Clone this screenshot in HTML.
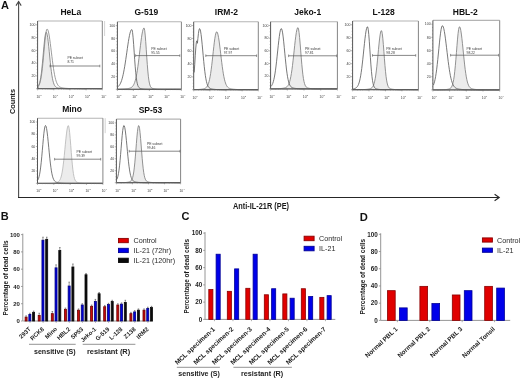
<!DOCTYPE html>
<html><head><meta charset="utf-8"><style>
html,body{margin:0;padding:0;background:#fff;width:520px;height:378px;overflow:hidden;}
svg{display:block;will-change:transform;}
text{font-family:"Liberation Sans",sans-serif;}
</style></head><body>
<svg width="520" height="378" viewBox="0 0 520 378">
<rect width="520" height="378" fill="#fff"/>
<text x="1" y="9.2" font-family="Liberation Sans, sans-serif" font-weight="bold" font-size="11" fill="#111">A</text>
<path d="M18.6,198 L18.6,1.6" stroke="#4a4a4a" stroke-width="1.1" fill="none"/>
<path d="M16,5.6 L18.6,1.5 L21.2,5.6" stroke="#474747" stroke-width="1.1" fill="none"/>
<path d="M18,197.5 L499,197.5" stroke="#262626" stroke-width="1.15" fill="none"/>
<path d="M494.6,194.3 L499.2,197.5 L494.6,200.7" stroke="#262626" stroke-width="1.15" fill="none"/>
<text transform="translate(14.6,101.5) rotate(-90)" text-anchor="middle" font-family="Liberation Sans, sans-serif" font-weight="bold" font-size="7.4" textLength="25.2" lengthAdjust="spacingAndGlyphs" fill="#1a1a1a">Counts</text>
<text x="233" y="208.9" font-family="Liberation Sans, sans-serif" font-weight="bold" font-size="8.6" textLength="56" lengthAdjust="spacingAndGlyphs" fill="#1a1a1a">Anti-IL-21R (PE)</text>
<text x="70.8" y="15" text-anchor="middle" font-family="Liberation Sans, sans-serif" font-weight="bold" font-size="8.5" fill="#111">HeLa</text>
<path d="M38.10,86.29 L38.63,85.44 L39.16,84.24 L39.69,82.56 L40.22,80.30 L40.75,77.35 L41.29,73.63 L41.82,69.13 L42.35,63.92 L42.88,58.18 L43.41,52.19 L43.94,46.30 L44.47,40.96 L45.00,36.60 L45.53,33.61 L46.06,32.26 L46.59,32.60 L47.12,34.36 L47.66,37.41 L48.19,41.50 L48.72,46.35 L49.25,51.63 L49.78,57.04 L50.31,62.29 L50.84,67.16 L51.37,71.51 L51.90,75.24 L52.43,78.33 L52.96,80.82 L53.49,82.77 L54.02,84.25 L54.56,85.35 L55.09,86.15 L55.62,86.73 L56.15,87.15 L56.68,87.45 L57.21,87.68 L57.74,87.84 L58.27,87.97 L58.80,88.08 L59.33,88.17 L59.86,88.24 L60.39,88.31 L60.93,88.36 L61.46,88.41 L61.99,88.46 L62.52,88.49 L63.05,88.53 L63.58,88.56 L64.11,88.58 L64.64,88.60 L65.17,88.62 L65.70,88.63 L66.23,88.65 L66.77,88.66 L67.30,88.66 L67.83,88.67 L68.36,88.68 L68.89,88.68 L69.42,88.69 L69.95,88.69 L70.48,88.69 L71.01,88.69 L71.54,88.69 L72.07,88.70 L72.60,88.70 L73.13,88.70 L73.67,88.70 L74.20,88.70 L74.73,88.70 L75.26,88.70 L75.79,88.70 L76.32,88.70 L76.85,88.70 L77.38,88.70 L77.91,88.70 L78.44,88.70 L78.97,88.70 L79.50,88.70 L80.04,88.70 L80.57,88.70 L81.10,88.70 L81.63,88.70 L82.16,88.70 L82.69,88.70 L83.22,88.70 L83.75,88.70 L84.28,88.70 L84.81,88.70 L85.34,88.70 L85.88,88.70 L86.41,88.70 L86.94,88.70 L87.47,88.70 L88.00,88.70 L88.53,88.70 L89.06,88.70 L89.59,88.70 L90.12,88.70 L90.65,88.70 L91.18,88.70 L91.71,88.70 L92.25,88.70 L92.78,88.70 L93.31,88.70 L93.84,88.70 L94.37,88.70 L94.90,88.70 L95.43,88.70 L95.96,88.70 L96.49,88.70 L97.02,88.70 L97.55,88.70 L98.08,88.70 L98.61,88.70 L99.15,88.70 L99.68,88.70 L100.21,88.70 L100.74,88.70 L101.27,88.70 L101.80,88.70 L101.80,88.70 L38.10,88.70 Z" fill="#ececec" stroke="#808080" stroke-width="0.85"/>
<path d="M38.10,86.51 L38.63,85.83 L39.16,84.88 L39.69,83.57 L40.22,81.79 L40.75,79.46 L41.29,76.49 L41.82,72.81 L42.35,68.42 L42.88,63.37 L43.41,57.80 L43.94,51.93 L44.47,46.06 L45.00,40.54 L45.53,35.76 L46.06,32.06 L46.59,29.75 L47.12,29.00 L47.66,29.50 L48.19,30.87 L48.72,33.07 L49.25,35.99 L49.78,39.50 L50.31,43.46 L50.84,47.71 L51.37,52.10 L51.90,56.48 L52.43,60.72 L52.96,64.73 L53.49,68.43 L54.02,71.76 L54.56,74.70 L55.09,77.24 L55.62,79.40 L56.15,81.20 L56.68,82.68 L57.21,83.87 L57.74,84.82 L58.27,85.57 L58.80,86.16 L59.33,86.62 L59.86,86.97 L60.39,87.24 L60.93,87.46 L61.46,87.63 L61.99,87.77 L62.52,87.88 L63.05,87.98 L63.58,88.06 L64.11,88.13 L64.64,88.19 L65.17,88.25 L65.70,88.30 L66.23,88.34 L66.77,88.38 L67.30,88.42 L67.83,88.46 L68.36,88.48 L68.89,88.51 L69.42,88.54 L69.95,88.56 L70.48,88.58 L71.01,88.59 L71.54,88.61 L72.07,88.62 L72.60,88.63 L73.13,88.64 L73.67,88.65 L74.20,88.66 L74.73,88.66 L75.26,88.67 L75.79,88.68 L76.32,88.68 L76.85,88.68 L77.38,88.69 L77.91,88.69 L78.44,88.69 L78.97,88.69 L79.50,88.69 L80.04,88.69 L80.57,88.70 L81.10,88.70 L81.63,88.70 L82.16,88.70 L82.69,88.70 L83.22,88.70 L83.75,88.70 L84.28,88.70 L84.81,88.70 L85.34,88.70 L85.88,88.70 L86.41,88.70 L86.94,88.70 L87.47,88.70 L88.00,88.70 L88.53,88.70 L89.06,88.70 L89.59,88.70 L90.12,88.70 L90.65,88.70 L91.18,88.70 L91.71,88.70 L92.25,88.70 L92.78,88.70 L93.31,88.70 L93.84,88.70 L94.37,88.70 L94.90,88.70 L95.43,88.70 L95.96,88.70 L96.49,88.70 L97.02,88.70 L97.55,88.70 L98.08,88.70 L98.61,88.70 L99.15,88.70 L99.68,88.70 L100.21,88.70 L100.74,88.70 L101.27,88.70 L101.80,88.70" fill="none" stroke="#8a8a8a" stroke-width="0.85"/>
<path d="M37.6,21.0 L102.3,21.0" fill="none" stroke="#b4b4b4" stroke-width="1.1"/>
<path d="M102.3,21.0 L102.3,88.7" fill="none" stroke="#858585" stroke-width="1"/>
<path d="M37.6,21.0 L37.6,88.7 L102.3,88.7" fill="none" stroke="#555" stroke-width="1"/>
<line x1="36.0" y1="88.70" x2="37.6" y2="88.70" stroke="#666" stroke-width="0.5"/>
<line x1="36.7" y1="85.50" x2="37.6" y2="85.50" stroke="#666" stroke-width="0.5"/>
<line x1="36.7" y1="82.31" x2="37.6" y2="82.31" stroke="#666" stroke-width="0.5"/>
<line x1="36.7" y1="79.12" x2="37.6" y2="79.12" stroke="#666" stroke-width="0.5"/>
<line x1="36.0" y1="75.92" x2="37.6" y2="75.92" stroke="#666" stroke-width="0.5"/>
<text x="35.4" y="77.12" text-anchor="end" font-family="Liberation Sans, sans-serif" font-size="3.5" fill="#3a3a3a">20</text>
<line x1="36.7" y1="72.73" x2="37.6" y2="72.73" stroke="#666" stroke-width="0.5"/>
<line x1="36.7" y1="69.53" x2="37.6" y2="69.53" stroke="#666" stroke-width="0.5"/>
<line x1="36.7" y1="66.34" x2="37.6" y2="66.34" stroke="#666" stroke-width="0.5"/>
<line x1="36.0" y1="63.14" x2="37.6" y2="63.14" stroke="#666" stroke-width="0.5"/>
<text x="35.4" y="64.34" text-anchor="end" font-family="Liberation Sans, sans-serif" font-size="3.5" fill="#3a3a3a">40</text>
<line x1="36.7" y1="59.95" x2="37.6" y2="59.95" stroke="#666" stroke-width="0.5"/>
<line x1="36.7" y1="56.75" x2="37.6" y2="56.75" stroke="#666" stroke-width="0.5"/>
<line x1="36.7" y1="53.55" x2="37.6" y2="53.55" stroke="#666" stroke-width="0.5"/>
<line x1="36.0" y1="50.36" x2="37.6" y2="50.36" stroke="#666" stroke-width="0.5"/>
<text x="35.4" y="51.56" text-anchor="end" font-family="Liberation Sans, sans-serif" font-size="3.5" fill="#3a3a3a">60</text>
<line x1="36.7" y1="47.16" x2="37.6" y2="47.16" stroke="#666" stroke-width="0.5"/>
<line x1="36.7" y1="43.97" x2="37.6" y2="43.97" stroke="#666" stroke-width="0.5"/>
<line x1="36.7" y1="40.77" x2="37.6" y2="40.77" stroke="#666" stroke-width="0.5"/>
<line x1="36.0" y1="37.58" x2="37.6" y2="37.58" stroke="#666" stroke-width="0.5"/>
<text x="35.4" y="38.78" text-anchor="end" font-family="Liberation Sans, sans-serif" font-size="3.5" fill="#3a3a3a">80</text>
<line x1="36.7" y1="34.39" x2="37.6" y2="34.39" stroke="#666" stroke-width="0.5"/>
<line x1="36.7" y1="31.19" x2="37.6" y2="31.19" stroke="#666" stroke-width="0.5"/>
<line x1="36.7" y1="28.00" x2="37.6" y2="28.00" stroke="#666" stroke-width="0.5"/>
<line x1="36.0" y1="24.80" x2="37.6" y2="24.80" stroke="#666" stroke-width="0.5"/>
<text x="35.4" y="26.00" text-anchor="end" font-family="Liberation Sans, sans-serif" font-size="3.5" fill="#3a3a3a">100</text>
<line x1="37.60" y1="88.7" x2="37.60" y2="90.3" stroke="#666" stroke-width="0.5"/>
<text x="38.30" y="97.60" text-anchor="middle" font-family="Liberation Sans, sans-serif" font-size="3.3" fill="#3a3a3a">10</text>
<text x="40.20" y="95.70" font-family="Liberation Sans, sans-serif" font-size="2.5" fill="#3a3a3a">0</text>
<line x1="42.47" y1="88.7" x2="42.47" y2="89.60000000000001" stroke="#777" stroke-width="0.4"/>
<line x1="45.32" y1="88.7" x2="45.32" y2="89.60000000000001" stroke="#777" stroke-width="0.4"/>
<line x1="47.34" y1="88.7" x2="47.34" y2="89.60000000000001" stroke="#777" stroke-width="0.4"/>
<line x1="48.91" y1="88.7" x2="48.91" y2="89.60000000000001" stroke="#777" stroke-width="0.4"/>
<line x1="50.19" y1="88.7" x2="50.19" y2="89.60000000000001" stroke="#777" stroke-width="0.4"/>
<line x1="51.27" y1="88.7" x2="51.27" y2="89.60000000000001" stroke="#777" stroke-width="0.4"/>
<line x1="52.21" y1="88.7" x2="52.21" y2="89.60000000000001" stroke="#777" stroke-width="0.4"/>
<line x1="53.03" y1="88.7" x2="53.03" y2="89.60000000000001" stroke="#777" stroke-width="0.4"/>
<line x1="53.77" y1="88.7" x2="53.77" y2="90.3" stroke="#666" stroke-width="0.5"/>
<text x="54.48" y="97.60" text-anchor="middle" font-family="Liberation Sans, sans-serif" font-size="3.3" fill="#3a3a3a">10</text>
<text x="56.38" y="95.70" font-family="Liberation Sans, sans-serif" font-size="2.5" fill="#3a3a3a">1</text>
<line x1="58.64" y1="88.7" x2="58.64" y2="89.60000000000001" stroke="#777" stroke-width="0.4"/>
<line x1="61.49" y1="88.7" x2="61.49" y2="89.60000000000001" stroke="#777" stroke-width="0.4"/>
<line x1="63.51" y1="88.7" x2="63.51" y2="89.60000000000001" stroke="#777" stroke-width="0.4"/>
<line x1="65.08" y1="88.7" x2="65.08" y2="89.60000000000001" stroke="#777" stroke-width="0.4"/>
<line x1="66.36" y1="88.7" x2="66.36" y2="89.60000000000001" stroke="#777" stroke-width="0.4"/>
<line x1="67.44" y1="88.7" x2="67.44" y2="89.60000000000001" stroke="#777" stroke-width="0.4"/>
<line x1="68.38" y1="88.7" x2="68.38" y2="89.60000000000001" stroke="#777" stroke-width="0.4"/>
<line x1="69.21" y1="88.7" x2="69.21" y2="89.60000000000001" stroke="#777" stroke-width="0.4"/>
<line x1="69.95" y1="88.7" x2="69.95" y2="90.3" stroke="#666" stroke-width="0.5"/>
<text x="70.65" y="97.60" text-anchor="middle" font-family="Liberation Sans, sans-serif" font-size="3.3" fill="#3a3a3a">10</text>
<text x="72.55" y="95.70" font-family="Liberation Sans, sans-serif" font-size="2.5" fill="#3a3a3a">2</text>
<line x1="74.82" y1="88.7" x2="74.82" y2="89.60000000000001" stroke="#777" stroke-width="0.4"/>
<line x1="77.67" y1="88.7" x2="77.67" y2="89.60000000000001" stroke="#777" stroke-width="0.4"/>
<line x1="79.69" y1="88.7" x2="79.69" y2="89.60000000000001" stroke="#777" stroke-width="0.4"/>
<line x1="81.26" y1="88.7" x2="81.26" y2="89.60000000000001" stroke="#777" stroke-width="0.4"/>
<line x1="82.54" y1="88.7" x2="82.54" y2="89.60000000000001" stroke="#777" stroke-width="0.4"/>
<line x1="83.62" y1="88.7" x2="83.62" y2="89.60000000000001" stroke="#777" stroke-width="0.4"/>
<line x1="84.56" y1="88.7" x2="84.56" y2="89.60000000000001" stroke="#777" stroke-width="0.4"/>
<line x1="85.38" y1="88.7" x2="85.38" y2="89.60000000000001" stroke="#777" stroke-width="0.4"/>
<line x1="86.12" y1="88.7" x2="86.12" y2="90.3" stroke="#666" stroke-width="0.5"/>
<text x="86.83" y="97.60" text-anchor="middle" font-family="Liberation Sans, sans-serif" font-size="3.3" fill="#3a3a3a">10</text>
<text x="88.72" y="95.70" font-family="Liberation Sans, sans-serif" font-size="2.5" fill="#3a3a3a">3</text>
<line x1="90.99" y1="88.7" x2="90.99" y2="89.60000000000001" stroke="#777" stroke-width="0.4"/>
<line x1="93.84" y1="88.7" x2="93.84" y2="89.60000000000001" stroke="#777" stroke-width="0.4"/>
<line x1="95.86" y1="88.7" x2="95.86" y2="89.60000000000001" stroke="#777" stroke-width="0.4"/>
<line x1="97.43" y1="88.7" x2="97.43" y2="89.60000000000001" stroke="#777" stroke-width="0.4"/>
<line x1="98.71" y1="88.7" x2="98.71" y2="89.60000000000001" stroke="#777" stroke-width="0.4"/>
<line x1="99.79" y1="88.7" x2="99.79" y2="89.60000000000001" stroke="#777" stroke-width="0.4"/>
<line x1="100.73" y1="88.7" x2="100.73" y2="89.60000000000001" stroke="#777" stroke-width="0.4"/>
<line x1="101.56" y1="88.7" x2="101.56" y2="89.60000000000001" stroke="#777" stroke-width="0.4"/>
<line x1="102.30" y1="88.7" x2="102.30" y2="90.3" stroke="#666" stroke-width="0.5"/>
<text x="103.00" y="97.60" text-anchor="middle" font-family="Liberation Sans, sans-serif" font-size="3.3" fill="#3a3a3a">10</text>
<text x="104.90" y="95.70" font-family="Liberation Sans, sans-serif" font-size="2.5" fill="#3a3a3a">4</text>
<line x1="50" y1="66" x2="99.8" y2="66" stroke="#555" stroke-width="0.7"/>
<line x1="50" y1="64.7" x2="50" y2="67.3" stroke="#555" stroke-width="0.6"/>
<line x1="99.8" y1="64.7" x2="99.8" y2="67.3" stroke="#555" stroke-width="0.6"/>
<text x="67.4" y="59.2" font-family="Liberation Sans, sans-serif" font-size="3.4" fill="#3a3a3a">PE subset</text>
<text x="67.4" y="63.2" font-family="Liberation Sans, sans-serif" font-size="3.4" fill="#3a3a3a">8.71</text>
<line x1="104.6" y1="21.0" x2="104.6" y2="36.0" stroke="#c8c8c8" stroke-width="0.8"/>
<text x="146.3" y="15" text-anchor="middle" font-family="Liberation Sans, sans-serif" font-weight="bold" font-size="8.5" fill="#111">G-519</text>
<path d="M117.90,89.24 L118.43,89.23 L118.95,89.22 L119.48,89.21 L120.00,89.19 L120.53,89.18 L121.05,89.16 L121.58,89.14 L122.10,89.11 L122.62,89.09 L123.15,89.06 L123.68,89.02 L124.20,88.99 L124.73,88.95 L125.25,88.90 L125.78,88.85 L126.30,88.80 L126.83,88.74 L127.35,88.67 L127.88,88.59 L128.40,88.50 L128.93,88.39 L129.45,88.26 L129.97,88.10 L130.50,87.90 L131.03,87.64 L131.55,87.32 L132.08,86.90 L132.60,86.37 L133.12,85.68 L133.65,84.81 L134.18,83.72 L134.70,82.36 L135.22,80.69 L135.75,78.69 L136.28,76.30 L136.80,73.52 L137.33,70.35 L137.85,66.79 L138.38,62.88 L138.90,58.69 L139.43,54.30 L139.95,49.84 L140.47,45.42 L141.00,41.20 L141.53,37.34 L142.05,33.99 L142.58,31.28 L143.10,29.33 L143.62,28.23 L144.15,28.12 L144.68,30.33 L145.20,35.05 L145.72,41.65 L146.25,49.31 L146.78,57.19 L147.30,64.59 L147.83,71.02 L148.35,76.23 L148.88,80.22 L149.40,83.10 L149.93,85.09 L150.45,86.41 L150.98,87.26 L151.50,87.81 L152.03,88.16 L152.55,88.41 L153.07,88.58 L153.60,88.72 L154.12,88.82 L154.65,88.91 L155.18,88.99 L155.70,89.05 L156.23,89.10 L156.75,89.14 L157.28,89.18 L157.80,89.21 L158.32,89.23 L158.85,89.25 L159.38,89.26 L159.90,89.27 L160.43,89.28 L160.95,89.28 L161.48,89.29 L162.00,89.29 L162.53,89.29 L163.05,89.30 L163.57,89.30 L164.10,89.30 L164.62,89.30 L165.15,89.30 L165.68,89.30 L166.20,89.30 L166.73,89.30 L167.25,89.30 L167.78,89.30 L168.30,89.30 L168.82,89.30 L169.35,89.30 L169.88,89.30 L170.40,89.30 L170.93,89.30 L171.45,89.30 L171.98,89.30 L172.50,89.30 L173.03,89.30 L173.55,89.30 L174.07,89.30 L174.60,89.30 L175.12,89.30 L175.65,89.30 L176.18,89.30 L176.70,89.30 L177.23,89.30 L177.75,89.30 L178.28,89.30 L178.80,89.30 L179.32,89.30 L179.85,89.30 L180.38,89.30 L180.90,89.30 L180.90,89.30 L117.90,89.30 Z" fill="#ececec" stroke="#808080" stroke-width="0.85"/>
<path d="M117.90,86.83 L118.43,86.37 L118.95,85.80 L119.48,85.10 L120.00,84.25 L120.53,83.22 L121.05,81.99 L121.58,80.54 L122.10,78.84 L122.62,76.88 L123.15,74.64 L123.68,72.12 L124.20,69.32 L124.73,66.27 L125.25,62.98 L125.78,59.50 L126.30,55.88 L126.83,52.20 L127.35,48.51 L127.88,44.92 L128.40,41.50 L128.93,38.36 L129.45,35.58 L129.97,33.25 L130.50,31.43 L131.03,30.19 L131.55,29.57 L132.08,29.88 L132.60,32.67 L133.12,37.78 L133.65,44.54 L134.18,52.13 L134.70,59.76 L135.22,66.79 L135.75,72.79 L136.28,77.59 L136.80,81.20 L137.33,83.79 L137.85,85.55 L138.38,86.71 L138.90,87.46 L139.43,87.94 L139.95,88.25 L140.47,88.47 L141.00,88.63 L141.53,88.76 L142.05,88.86 L142.58,88.94 L143.10,89.01 L143.62,89.07 L144.15,89.12 L144.68,89.16 L145.20,89.19 L145.72,89.21 L146.25,89.23 L146.78,89.25 L147.30,89.26 L147.83,89.27 L148.35,89.28 L148.88,89.29 L149.40,89.29 L149.93,89.29 L150.45,89.29 L150.98,89.30 L151.50,89.30 L152.03,89.30 L152.55,89.30 L153.07,89.30 L153.60,89.30 L154.12,89.30 L154.65,89.30 L155.18,89.30 L155.70,89.30 L156.23,89.30 L156.75,89.30 L157.28,89.30 L157.80,89.30 L158.32,89.30 L158.85,89.30 L159.38,89.30 L159.90,89.30 L160.43,89.30 L160.95,89.30 L161.48,89.30 L162.00,89.30 L162.53,89.30 L163.05,89.30 L163.57,89.30 L164.10,89.30 L164.62,89.30 L165.15,89.30 L165.68,89.30 L166.20,89.30 L166.73,89.30 L167.25,89.30 L167.78,89.30 L168.30,89.30 L168.82,89.30 L169.35,89.30 L169.88,89.30 L170.40,89.30 L170.93,89.30 L171.45,89.30 L171.98,89.30 L172.50,89.30 L173.03,89.30 L173.55,89.30 L174.07,89.30 L174.60,89.30 L175.12,89.30 L175.65,89.30 L176.18,89.30 L176.70,89.30 L177.23,89.30 L177.75,89.30 L178.28,89.30 L178.80,89.30 L179.32,89.30 L179.85,89.30 L180.38,89.30 L180.90,89.30" fill="none" stroke="#606060" stroke-width="0.85"/>
<path d="M117.4,21.8 L181.4,21.8" fill="none" stroke="#b4b4b4" stroke-width="1.1"/>
<path d="M181.4,21.8 L181.4,89.3" fill="none" stroke="#858585" stroke-width="1"/>
<path d="M117.4,21.8 L117.4,89.3 L181.4,89.3" fill="none" stroke="#555" stroke-width="1"/>
<line x1="115.80000000000001" y1="89.30" x2="117.4" y2="89.30" stroke="#666" stroke-width="0.5"/>
<line x1="116.5" y1="86.11" x2="117.4" y2="86.11" stroke="#666" stroke-width="0.5"/>
<line x1="116.5" y1="82.93" x2="117.4" y2="82.93" stroke="#666" stroke-width="0.5"/>
<line x1="116.5" y1="79.75" x2="117.4" y2="79.75" stroke="#666" stroke-width="0.5"/>
<line x1="115.80000000000001" y1="76.56" x2="117.4" y2="76.56" stroke="#666" stroke-width="0.5"/>
<text x="115.2" y="77.76" text-anchor="end" font-family="Liberation Sans, sans-serif" font-size="3.5" fill="#3a3a3a">20</text>
<line x1="116.5" y1="73.38" x2="117.4" y2="73.38" stroke="#666" stroke-width="0.5"/>
<line x1="116.5" y1="70.19" x2="117.4" y2="70.19" stroke="#666" stroke-width="0.5"/>
<line x1="116.5" y1="67.00" x2="117.4" y2="67.00" stroke="#666" stroke-width="0.5"/>
<line x1="115.80000000000001" y1="63.82" x2="117.4" y2="63.82" stroke="#666" stroke-width="0.5"/>
<text x="115.2" y="65.02" text-anchor="end" font-family="Liberation Sans, sans-serif" font-size="3.5" fill="#3a3a3a">40</text>
<line x1="116.5" y1="60.63" x2="117.4" y2="60.63" stroke="#666" stroke-width="0.5"/>
<line x1="116.5" y1="57.45" x2="117.4" y2="57.45" stroke="#666" stroke-width="0.5"/>
<line x1="116.5" y1="54.26" x2="117.4" y2="54.26" stroke="#666" stroke-width="0.5"/>
<line x1="115.80000000000001" y1="51.08" x2="117.4" y2="51.08" stroke="#666" stroke-width="0.5"/>
<text x="115.2" y="52.28" text-anchor="end" font-family="Liberation Sans, sans-serif" font-size="3.5" fill="#3a3a3a">60</text>
<line x1="116.5" y1="47.89" x2="117.4" y2="47.89" stroke="#666" stroke-width="0.5"/>
<line x1="116.5" y1="44.71" x2="117.4" y2="44.71" stroke="#666" stroke-width="0.5"/>
<line x1="116.5" y1="41.52" x2="117.4" y2="41.52" stroke="#666" stroke-width="0.5"/>
<line x1="115.80000000000001" y1="38.34" x2="117.4" y2="38.34" stroke="#666" stroke-width="0.5"/>
<text x="115.2" y="39.54" text-anchor="end" font-family="Liberation Sans, sans-serif" font-size="3.5" fill="#3a3a3a">80</text>
<line x1="116.5" y1="35.15" x2="117.4" y2="35.15" stroke="#666" stroke-width="0.5"/>
<line x1="116.5" y1="31.97" x2="117.4" y2="31.97" stroke="#666" stroke-width="0.5"/>
<line x1="116.5" y1="28.78" x2="117.4" y2="28.78" stroke="#666" stroke-width="0.5"/>
<line x1="115.80000000000001" y1="25.60" x2="117.4" y2="25.60" stroke="#666" stroke-width="0.5"/>
<text x="115.2" y="26.80" text-anchor="end" font-family="Liberation Sans, sans-serif" font-size="3.5" fill="#3a3a3a">100</text>
<line x1="117.40" y1="89.3" x2="117.40" y2="90.89999999999999" stroke="#666" stroke-width="0.5"/>
<text x="118.10" y="98.20" text-anchor="middle" font-family="Liberation Sans, sans-serif" font-size="3.3" fill="#3a3a3a">10</text>
<text x="120.00" y="96.30" font-family="Liberation Sans, sans-serif" font-size="2.5" fill="#3a3a3a">0</text>
<line x1="122.22" y1="89.3" x2="122.22" y2="90.2" stroke="#777" stroke-width="0.4"/>
<line x1="125.03" y1="89.3" x2="125.03" y2="90.2" stroke="#777" stroke-width="0.4"/>
<line x1="127.03" y1="89.3" x2="127.03" y2="90.2" stroke="#777" stroke-width="0.4"/>
<line x1="128.58" y1="89.3" x2="128.58" y2="90.2" stroke="#777" stroke-width="0.4"/>
<line x1="129.85" y1="89.3" x2="129.85" y2="90.2" stroke="#777" stroke-width="0.4"/>
<line x1="130.92" y1="89.3" x2="130.92" y2="90.2" stroke="#777" stroke-width="0.4"/>
<line x1="131.85" y1="89.3" x2="131.85" y2="90.2" stroke="#777" stroke-width="0.4"/>
<line x1="132.67" y1="89.3" x2="132.67" y2="90.2" stroke="#777" stroke-width="0.4"/>
<line x1="133.40" y1="89.3" x2="133.40" y2="90.89999999999999" stroke="#666" stroke-width="0.5"/>
<text x="134.10" y="98.20" text-anchor="middle" font-family="Liberation Sans, sans-serif" font-size="3.3" fill="#3a3a3a">10</text>
<text x="136.00" y="96.30" font-family="Liberation Sans, sans-serif" font-size="2.5" fill="#3a3a3a">1</text>
<line x1="138.22" y1="89.3" x2="138.22" y2="90.2" stroke="#777" stroke-width="0.4"/>
<line x1="141.03" y1="89.3" x2="141.03" y2="90.2" stroke="#777" stroke-width="0.4"/>
<line x1="143.03" y1="89.3" x2="143.03" y2="90.2" stroke="#777" stroke-width="0.4"/>
<line x1="144.58" y1="89.3" x2="144.58" y2="90.2" stroke="#777" stroke-width="0.4"/>
<line x1="145.85" y1="89.3" x2="145.85" y2="90.2" stroke="#777" stroke-width="0.4"/>
<line x1="146.92" y1="89.3" x2="146.92" y2="90.2" stroke="#777" stroke-width="0.4"/>
<line x1="147.85" y1="89.3" x2="147.85" y2="90.2" stroke="#777" stroke-width="0.4"/>
<line x1="148.67" y1="89.3" x2="148.67" y2="90.2" stroke="#777" stroke-width="0.4"/>
<line x1="149.40" y1="89.3" x2="149.40" y2="90.89999999999999" stroke="#666" stroke-width="0.5"/>
<text x="150.10" y="98.20" text-anchor="middle" font-family="Liberation Sans, sans-serif" font-size="3.3" fill="#3a3a3a">10</text>
<text x="152.00" y="96.30" font-family="Liberation Sans, sans-serif" font-size="2.5" fill="#3a3a3a">2</text>
<line x1="154.22" y1="89.3" x2="154.22" y2="90.2" stroke="#777" stroke-width="0.4"/>
<line x1="157.03" y1="89.3" x2="157.03" y2="90.2" stroke="#777" stroke-width="0.4"/>
<line x1="159.03" y1="89.3" x2="159.03" y2="90.2" stroke="#777" stroke-width="0.4"/>
<line x1="160.58" y1="89.3" x2="160.58" y2="90.2" stroke="#777" stroke-width="0.4"/>
<line x1="161.85" y1="89.3" x2="161.85" y2="90.2" stroke="#777" stroke-width="0.4"/>
<line x1="162.92" y1="89.3" x2="162.92" y2="90.2" stroke="#777" stroke-width="0.4"/>
<line x1="163.85" y1="89.3" x2="163.85" y2="90.2" stroke="#777" stroke-width="0.4"/>
<line x1="164.67" y1="89.3" x2="164.67" y2="90.2" stroke="#777" stroke-width="0.4"/>
<line x1="165.40" y1="89.3" x2="165.40" y2="90.89999999999999" stroke="#666" stroke-width="0.5"/>
<text x="166.10" y="98.20" text-anchor="middle" font-family="Liberation Sans, sans-serif" font-size="3.3" fill="#3a3a3a">10</text>
<text x="168.00" y="96.30" font-family="Liberation Sans, sans-serif" font-size="2.5" fill="#3a3a3a">3</text>
<line x1="170.22" y1="89.3" x2="170.22" y2="90.2" stroke="#777" stroke-width="0.4"/>
<line x1="173.03" y1="89.3" x2="173.03" y2="90.2" stroke="#777" stroke-width="0.4"/>
<line x1="175.03" y1="89.3" x2="175.03" y2="90.2" stroke="#777" stroke-width="0.4"/>
<line x1="176.58" y1="89.3" x2="176.58" y2="90.2" stroke="#777" stroke-width="0.4"/>
<line x1="177.85" y1="89.3" x2="177.85" y2="90.2" stroke="#777" stroke-width="0.4"/>
<line x1="178.92" y1="89.3" x2="178.92" y2="90.2" stroke="#777" stroke-width="0.4"/>
<line x1="179.85" y1="89.3" x2="179.85" y2="90.2" stroke="#777" stroke-width="0.4"/>
<line x1="180.67" y1="89.3" x2="180.67" y2="90.2" stroke="#777" stroke-width="0.4"/>
<line x1="181.40" y1="89.3" x2="181.40" y2="90.89999999999999" stroke="#666" stroke-width="0.5"/>
<text x="182.10" y="98.20" text-anchor="middle" font-family="Liberation Sans, sans-serif" font-size="3.3" fill="#3a3a3a">10</text>
<text x="184.00" y="96.30" font-family="Liberation Sans, sans-serif" font-size="2.5" fill="#3a3a3a">4</text>
<line x1="135.6" y1="55.6" x2="179.8" y2="55.6" stroke="#555" stroke-width="0.7"/>
<line x1="135.6" y1="54.300000000000004" x2="135.6" y2="56.9" stroke="#555" stroke-width="0.6"/>
<line x1="179.8" y1="54.300000000000004" x2="179.8" y2="56.9" stroke="#555" stroke-width="0.6"/>
<text x="151.2" y="49.800000000000004" font-family="Liberation Sans, sans-serif" font-size="3.4" fill="#3a3a3a">PE subset</text>
<text x="151.2" y="53.800000000000004" font-family="Liberation Sans, sans-serif" font-size="3.4" fill="#3a3a3a">95.55</text>
<text x="226.4" y="15" text-anchor="middle" font-family="Liberation Sans, sans-serif" font-weight="bold" font-size="8.5" fill="#111">IRM-2</text>
<path d="M194.20,89.64 L194.73,89.63 L195.26,89.61 L195.79,89.60 L196.32,89.58 L196.85,89.56 L197.38,89.53 L197.91,89.51 L198.44,89.47 L198.97,89.44 L199.50,89.40 L200.03,89.35 L200.56,89.30 L201.09,89.25 L201.62,89.18 L202.15,89.11 L202.68,89.02 L203.21,88.92 L203.74,88.79 L204.27,88.64 L204.80,88.43 L205.33,88.17 L205.86,87.82 L206.39,87.35 L206.92,86.72 L207.45,85.89 L207.98,84.80 L208.51,83.40 L209.04,81.61 L209.57,79.39 L210.10,76.69 L210.63,73.49 L211.16,69.79 L211.69,65.63 L212.22,61.09 L212.75,56.29 L213.28,51.41 L213.81,46.63 L214.34,42.18 L214.87,38.30 L215.40,35.18 L215.93,33.01 L216.46,31.92 L216.99,31.95 L217.52,32.96 L218.05,34.89 L218.58,37.63 L219.11,41.05 L219.64,45.00 L220.17,49.29 L220.70,53.76 L221.23,58.24 L221.76,62.57 L222.29,66.66 L222.82,70.40 L223.35,73.75 L223.88,76.68 L224.41,79.18 L224.94,81.27 L225.47,82.99 L226.00,84.38 L226.53,85.48 L227.06,86.35 L227.59,87.01 L228.12,87.53 L228.65,87.92 L229.18,88.22 L229.71,88.46 L230.24,88.64 L230.77,88.78 L231.30,88.90 L231.83,89.00 L232.36,89.08 L232.89,89.15 L233.42,89.22 L233.95,89.27 L234.48,89.32 L235.01,89.37 L235.54,89.41 L236.07,89.44 L236.60,89.48 L237.13,89.51 L237.66,89.53 L238.19,89.55 L238.72,89.57 L239.25,89.59 L239.78,89.61 L240.31,89.62 L240.84,89.63 L241.37,89.64 L241.90,89.65 L242.43,89.66 L242.96,89.67 L243.49,89.67 L244.02,89.68 L244.55,89.68 L245.08,89.68 L245.61,89.69 L246.14,89.69 L246.67,89.69 L247.20,89.69 L247.73,89.69 L248.26,89.70 L248.79,89.70 L249.32,89.70 L249.85,89.70 L250.38,89.70 L250.91,89.70 L251.44,89.70 L251.97,89.70 L252.50,89.70 L253.03,89.70 L253.56,89.70 L254.09,89.70 L254.62,89.70 L255.15,89.70 L255.68,89.70 L256.21,89.70 L256.74,89.70 L257.27,89.70 L257.80,89.70 L257.80,89.70 L194.20,89.70 Z" fill="#ececec" stroke="#808080" stroke-width="0.85"/>
<path d="M194.20,72.48 L194.73,64.47 L195.26,55.80 L195.79,47.94 L196.32,42.53 L196.85,40.84 L197.38,43.29 L197.91,38.33 L198.44,33.40 L198.97,30.06 L199.50,28.64 L200.03,29.11 L200.56,31.12 L201.09,34.49 L201.62,38.97 L202.15,44.25 L202.68,49.97 L203.21,55.81 L203.74,61.46 L204.27,66.69 L204.80,71.35 L205.33,75.34 L205.86,78.65 L206.39,81.30 L206.92,83.37 L207.45,84.95 L207.98,86.12 L208.51,86.98 L209.04,87.60 L209.57,88.04 L210.10,88.36 L210.63,88.60 L211.16,88.78 L211.69,88.92 L212.22,89.03 L212.75,89.13 L213.28,89.21 L213.81,89.28 L214.34,89.34 L214.87,89.39 L215.40,89.44 L215.93,89.48 L216.46,89.51 L216.99,89.54 L217.52,89.57 L218.05,89.59 L218.58,89.61 L219.11,89.63 L219.64,89.64 L220.17,89.65 L220.70,89.66 L221.23,89.67 L221.76,89.68 L222.29,89.68 L222.82,89.68 L223.35,89.69 L223.88,89.69 L224.41,89.69 L224.94,89.69 L225.47,89.70 L226.00,89.70 L226.53,89.70 L227.06,89.70 L227.59,89.70 L228.12,89.70 L228.65,89.70 L229.18,89.70 L229.71,89.70 L230.24,89.70 L230.77,89.70 L231.30,89.70 L231.83,89.70 L232.36,89.70 L232.89,89.70 L233.42,89.70 L233.95,89.70 L234.48,89.70 L235.01,89.70 L235.54,89.70 L236.07,89.70 L236.60,89.70 L237.13,89.70 L237.66,89.70 L238.19,89.70 L238.72,89.70 L239.25,89.70 L239.78,89.70 L240.31,89.70 L240.84,89.70 L241.37,89.70 L241.90,89.70 L242.43,89.70 L242.96,89.70 L243.49,89.70 L244.02,89.70 L244.55,89.70 L245.08,89.70 L245.61,89.70 L246.14,89.70 L246.67,89.70 L247.20,89.70 L247.73,89.70 L248.26,89.70 L248.79,89.70 L249.32,89.70 L249.85,89.70 L250.38,89.70 L250.91,89.70 L251.44,89.70 L251.97,89.70 L252.50,89.70 L253.03,89.70 L253.56,89.70 L254.09,89.70 L254.62,89.70 L255.15,89.70 L255.68,89.70 L256.21,89.70 L256.74,89.70 L257.27,89.70 L257.80,89.70" fill="none" stroke="#606060" stroke-width="0.85"/>
<path d="M193.7,21.8 L258.3,21.8" fill="none" stroke="#b4b4b4" stroke-width="1.1"/>
<path d="M258.3,21.8 L258.3,89.7" fill="none" stroke="#858585" stroke-width="1"/>
<path d="M193.7,21.8 L193.7,89.7 L258.3,89.7" fill="none" stroke="#555" stroke-width="1"/>
<line x1="192.1" y1="89.70" x2="193.7" y2="89.70" stroke="#666" stroke-width="0.5"/>
<line x1="192.79999999999998" y1="86.50" x2="193.7" y2="86.50" stroke="#666" stroke-width="0.5"/>
<line x1="192.79999999999998" y1="83.29" x2="193.7" y2="83.29" stroke="#666" stroke-width="0.5"/>
<line x1="192.79999999999998" y1="80.09" x2="193.7" y2="80.09" stroke="#666" stroke-width="0.5"/>
<line x1="192.1" y1="76.88" x2="193.7" y2="76.88" stroke="#666" stroke-width="0.5"/>
<text x="191.5" y="78.08" text-anchor="end" font-family="Liberation Sans, sans-serif" font-size="3.5" fill="#3a3a3a">20</text>
<line x1="192.79999999999998" y1="73.68" x2="193.7" y2="73.68" stroke="#666" stroke-width="0.5"/>
<line x1="192.79999999999998" y1="70.47" x2="193.7" y2="70.47" stroke="#666" stroke-width="0.5"/>
<line x1="192.79999999999998" y1="67.27" x2="193.7" y2="67.27" stroke="#666" stroke-width="0.5"/>
<line x1="192.1" y1="64.06" x2="193.7" y2="64.06" stroke="#666" stroke-width="0.5"/>
<text x="191.5" y="65.26" text-anchor="end" font-family="Liberation Sans, sans-serif" font-size="3.5" fill="#3a3a3a">40</text>
<line x1="192.79999999999998" y1="60.86" x2="193.7" y2="60.86" stroke="#666" stroke-width="0.5"/>
<line x1="192.79999999999998" y1="57.65" x2="193.7" y2="57.65" stroke="#666" stroke-width="0.5"/>
<line x1="192.79999999999998" y1="54.45" x2="193.7" y2="54.45" stroke="#666" stroke-width="0.5"/>
<line x1="192.1" y1="51.24" x2="193.7" y2="51.24" stroke="#666" stroke-width="0.5"/>
<text x="191.5" y="52.44" text-anchor="end" font-family="Liberation Sans, sans-serif" font-size="3.5" fill="#3a3a3a">60</text>
<line x1="192.79999999999998" y1="48.04" x2="193.7" y2="48.04" stroke="#666" stroke-width="0.5"/>
<line x1="192.79999999999998" y1="44.83" x2="193.7" y2="44.83" stroke="#666" stroke-width="0.5"/>
<line x1="192.79999999999998" y1="41.63" x2="193.7" y2="41.63" stroke="#666" stroke-width="0.5"/>
<line x1="192.1" y1="38.42" x2="193.7" y2="38.42" stroke="#666" stroke-width="0.5"/>
<text x="191.5" y="39.62" text-anchor="end" font-family="Liberation Sans, sans-serif" font-size="3.5" fill="#3a3a3a">80</text>
<line x1="192.79999999999998" y1="35.22" x2="193.7" y2="35.22" stroke="#666" stroke-width="0.5"/>
<line x1="192.79999999999998" y1="32.01" x2="193.7" y2="32.01" stroke="#666" stroke-width="0.5"/>
<line x1="192.79999999999998" y1="28.81" x2="193.7" y2="28.81" stroke="#666" stroke-width="0.5"/>
<line x1="192.1" y1="25.60" x2="193.7" y2="25.60" stroke="#666" stroke-width="0.5"/>
<text x="191.5" y="26.80" text-anchor="end" font-family="Liberation Sans, sans-serif" font-size="3.5" fill="#3a3a3a">100</text>
<line x1="193.70" y1="89.7" x2="193.70" y2="91.3" stroke="#666" stroke-width="0.5"/>
<text x="194.40" y="98.60" text-anchor="middle" font-family="Liberation Sans, sans-serif" font-size="3.3" fill="#3a3a3a">10</text>
<text x="196.30" y="96.70" font-family="Liberation Sans, sans-serif" font-size="2.5" fill="#3a3a3a">0</text>
<line x1="198.56" y1="89.7" x2="198.56" y2="90.60000000000001" stroke="#777" stroke-width="0.4"/>
<line x1="201.41" y1="89.7" x2="201.41" y2="90.60000000000001" stroke="#777" stroke-width="0.4"/>
<line x1="203.42" y1="89.7" x2="203.42" y2="90.60000000000001" stroke="#777" stroke-width="0.4"/>
<line x1="204.99" y1="89.7" x2="204.99" y2="90.60000000000001" stroke="#777" stroke-width="0.4"/>
<line x1="206.27" y1="89.7" x2="206.27" y2="90.60000000000001" stroke="#777" stroke-width="0.4"/>
<line x1="207.35" y1="89.7" x2="207.35" y2="90.60000000000001" stroke="#777" stroke-width="0.4"/>
<line x1="208.28" y1="89.7" x2="208.28" y2="90.60000000000001" stroke="#777" stroke-width="0.4"/>
<line x1="209.11" y1="89.7" x2="209.11" y2="90.60000000000001" stroke="#777" stroke-width="0.4"/>
<line x1="209.85" y1="89.7" x2="209.85" y2="91.3" stroke="#666" stroke-width="0.5"/>
<text x="210.55" y="98.60" text-anchor="middle" font-family="Liberation Sans, sans-serif" font-size="3.3" fill="#3a3a3a">10</text>
<text x="212.45" y="96.70" font-family="Liberation Sans, sans-serif" font-size="2.5" fill="#3a3a3a">1</text>
<line x1="214.71" y1="89.7" x2="214.71" y2="90.60000000000001" stroke="#777" stroke-width="0.4"/>
<line x1="217.56" y1="89.7" x2="217.56" y2="90.60000000000001" stroke="#777" stroke-width="0.4"/>
<line x1="219.57" y1="89.7" x2="219.57" y2="90.60000000000001" stroke="#777" stroke-width="0.4"/>
<line x1="221.14" y1="89.7" x2="221.14" y2="90.60000000000001" stroke="#777" stroke-width="0.4"/>
<line x1="222.42" y1="89.7" x2="222.42" y2="90.60000000000001" stroke="#777" stroke-width="0.4"/>
<line x1="223.50" y1="89.7" x2="223.50" y2="90.60000000000001" stroke="#777" stroke-width="0.4"/>
<line x1="224.43" y1="89.7" x2="224.43" y2="90.60000000000001" stroke="#777" stroke-width="0.4"/>
<line x1="225.26" y1="89.7" x2="225.26" y2="90.60000000000001" stroke="#777" stroke-width="0.4"/>
<line x1="226.00" y1="89.7" x2="226.00" y2="91.3" stroke="#666" stroke-width="0.5"/>
<text x="226.70" y="98.60" text-anchor="middle" font-family="Liberation Sans, sans-serif" font-size="3.3" fill="#3a3a3a">10</text>
<text x="228.60" y="96.70" font-family="Liberation Sans, sans-serif" font-size="2.5" fill="#3a3a3a">2</text>
<line x1="230.86" y1="89.7" x2="230.86" y2="90.60000000000001" stroke="#777" stroke-width="0.4"/>
<line x1="233.71" y1="89.7" x2="233.71" y2="90.60000000000001" stroke="#777" stroke-width="0.4"/>
<line x1="235.72" y1="89.7" x2="235.72" y2="90.60000000000001" stroke="#777" stroke-width="0.4"/>
<line x1="237.29" y1="89.7" x2="237.29" y2="90.60000000000001" stroke="#777" stroke-width="0.4"/>
<line x1="238.57" y1="89.7" x2="238.57" y2="90.60000000000001" stroke="#777" stroke-width="0.4"/>
<line x1="239.65" y1="89.7" x2="239.65" y2="90.60000000000001" stroke="#777" stroke-width="0.4"/>
<line x1="240.58" y1="89.7" x2="240.58" y2="90.60000000000001" stroke="#777" stroke-width="0.4"/>
<line x1="241.41" y1="89.7" x2="241.41" y2="90.60000000000001" stroke="#777" stroke-width="0.4"/>
<line x1="242.15" y1="89.7" x2="242.15" y2="91.3" stroke="#666" stroke-width="0.5"/>
<text x="242.85" y="98.60" text-anchor="middle" font-family="Liberation Sans, sans-serif" font-size="3.3" fill="#3a3a3a">10</text>
<text x="244.75" y="96.70" font-family="Liberation Sans, sans-serif" font-size="2.5" fill="#3a3a3a">3</text>
<line x1="247.01" y1="89.7" x2="247.01" y2="90.60000000000001" stroke="#777" stroke-width="0.4"/>
<line x1="249.86" y1="89.7" x2="249.86" y2="90.60000000000001" stroke="#777" stroke-width="0.4"/>
<line x1="251.87" y1="89.7" x2="251.87" y2="90.60000000000001" stroke="#777" stroke-width="0.4"/>
<line x1="253.44" y1="89.7" x2="253.44" y2="90.60000000000001" stroke="#777" stroke-width="0.4"/>
<line x1="254.72" y1="89.7" x2="254.72" y2="90.60000000000001" stroke="#777" stroke-width="0.4"/>
<line x1="255.80" y1="89.7" x2="255.80" y2="90.60000000000001" stroke="#777" stroke-width="0.4"/>
<line x1="256.73" y1="89.7" x2="256.73" y2="90.60000000000001" stroke="#777" stroke-width="0.4"/>
<line x1="257.56" y1="89.7" x2="257.56" y2="90.60000000000001" stroke="#777" stroke-width="0.4"/>
<line x1="258.30" y1="89.7" x2="258.30" y2="91.3" stroke="#666" stroke-width="0.5"/>
<text x="259.00" y="98.60" text-anchor="middle" font-family="Liberation Sans, sans-serif" font-size="3.3" fill="#3a3a3a">10</text>
<text x="260.90" y="96.70" font-family="Liberation Sans, sans-serif" font-size="2.5" fill="#3a3a3a">4</text>
<line x1="205.8" y1="55.7" x2="256.6" y2="55.7" stroke="#555" stroke-width="0.7"/>
<line x1="205.8" y1="54.400000000000006" x2="205.8" y2="57.0" stroke="#555" stroke-width="0.6"/>
<line x1="256.6" y1="54.400000000000006" x2="256.6" y2="57.0" stroke="#555" stroke-width="0.6"/>
<text x="223.7" y="49.900000000000006" font-family="Liberation Sans, sans-serif" font-size="3.4" fill="#3a3a3a">PE subset</text>
<text x="223.7" y="53.900000000000006" font-family="Liberation Sans, sans-serif" font-size="3.4" fill="#3a3a3a">97.97</text>
<text x="307.7" y="15" text-anchor="middle" font-family="Liberation Sans, sans-serif" font-weight="bold" font-size="8.5" fill="#111">Jeko-1</text>
<path d="M271.10,88.88 L271.65,88.88 L272.20,88.87 L272.75,88.87 L273.29,88.86 L273.84,88.85 L274.39,88.84 L274.94,88.83 L275.49,88.82 L276.04,88.80 L276.58,88.79 L277.13,88.76 L277.68,88.74 L278.23,88.71 L278.78,88.68 L279.33,88.65 L279.87,88.61 L280.42,88.56 L280.97,88.51 L281.52,88.45 L282.07,88.39 L282.62,88.32 L283.16,88.23 L283.71,88.13 L284.26,88.01 L284.81,87.87 L285.36,87.68 L285.91,87.44 L286.45,87.12 L287.00,86.69 L287.55,86.12 L288.10,85.35 L288.65,84.34 L289.19,83.02 L289.74,81.33 L290.29,79.20 L290.84,76.58 L291.39,73.44 L291.94,69.75 L292.49,65.55 L293.03,60.89 L293.58,55.90 L294.13,50.72 L294.68,45.56 L295.23,40.64 L295.78,36.21 L296.32,32.51 L296.87,29.74 L297.42,28.07 L297.97,27.62 L298.52,29.00 L299.06,32.46 L299.61,37.61 L300.16,43.93 L300.71,50.84 L301.26,57.77 L301.81,64.27 L302.36,69.99 L302.90,74.79 L303.45,78.60 L304.00,81.52 L304.55,83.65 L305.10,85.16 L305.64,86.21 L306.19,86.91 L306.74,87.39 L307.29,87.72 L307.84,87.95 L308.39,88.12 L308.94,88.25 L309.48,88.36 L310.03,88.45 L310.58,88.52 L311.13,88.59 L311.68,88.64 L312.23,88.69 L312.77,88.73 L313.32,88.76 L313.87,88.79 L314.42,88.81 L314.97,88.83 L315.51,88.85 L316.06,88.86 L316.61,88.87 L317.16,88.88 L317.71,88.88 L318.26,88.89 L318.81,88.89 L319.35,88.89 L319.90,88.89 L320.45,88.90 L321.00,88.90 L321.55,88.90 L322.09,88.90 L322.64,88.90 L323.19,88.90 L323.74,88.90 L324.29,88.90 L324.84,88.90 L325.38,88.90 L325.93,88.90 L326.48,88.90 L327.03,88.90 L327.58,88.90 L328.13,88.90 L328.67,88.90 L329.22,88.90 L329.77,88.90 L330.32,88.90 L330.87,88.90 L331.42,88.90 L331.96,88.90 L332.51,88.90 L333.06,88.90 L333.61,88.90 L334.16,88.90 L334.71,88.90 L335.25,88.90 L335.80,88.90 L336.35,88.90 L336.90,88.90 L336.90,88.90 L271.10,88.90 Z" fill="#ececec" stroke="#808080" stroke-width="0.85"/>
<path d="M271.10,86.33 L271.65,85.61 L272.20,84.65 L272.75,83.38 L273.29,81.74 L273.84,79.65 L274.39,77.06 L274.94,73.92 L275.49,70.21 L276.04,65.97 L276.58,61.25 L277.13,56.18 L277.68,50.94 L278.23,45.72 L278.78,40.79 L279.33,36.40 L279.87,32.81 L280.42,30.23 L280.97,28.83 L281.52,28.72 L282.07,30.10 L282.62,32.90 L283.16,36.91 L283.71,41.85 L284.26,47.37 L284.81,53.13 L285.36,58.82 L285.91,64.18 L286.45,69.02 L287.00,73.23 L287.55,76.77 L288.10,79.64 L288.65,81.91 L289.19,83.65 L289.74,84.95 L290.29,85.91 L290.84,86.61 L291.39,87.11 L291.94,87.47 L292.49,87.73 L293.03,87.93 L293.58,88.08 L294.13,88.20 L294.68,88.30 L295.23,88.39 L295.78,88.46 L296.32,88.52 L296.87,88.58 L297.42,88.62 L297.97,88.67 L298.52,88.70 L299.06,88.74 L299.61,88.76 L300.16,88.79 L300.71,88.81 L301.26,88.82 L301.81,88.84 L302.36,88.85 L302.90,88.86 L303.45,88.87 L304.00,88.87 L304.55,88.88 L305.10,88.88 L305.64,88.89 L306.19,88.89 L306.74,88.89 L307.29,88.89 L307.84,88.90 L308.39,88.90 L308.94,88.90 L309.48,88.90 L310.03,88.90 L310.58,88.90 L311.13,88.90 L311.68,88.90 L312.23,88.90 L312.77,88.90 L313.32,88.90 L313.87,88.90 L314.42,88.90 L314.97,88.90 L315.51,88.90 L316.06,88.90 L316.61,88.90 L317.16,88.90 L317.71,88.90 L318.26,88.90 L318.81,88.90 L319.35,88.90 L319.90,88.90 L320.45,88.90 L321.00,88.90 L321.55,88.90 L322.09,88.90 L322.64,88.90 L323.19,88.90 L323.74,88.90 L324.29,88.90 L324.84,88.90 L325.38,88.90 L325.93,88.90 L326.48,88.90 L327.03,88.90 L327.58,88.90 L328.13,88.90 L328.67,88.90 L329.22,88.90 L329.77,88.90 L330.32,88.90 L330.87,88.90 L331.42,88.90 L331.96,88.90 L332.51,88.90 L333.06,88.90 L333.61,88.90 L334.16,88.90 L334.71,88.90 L335.25,88.90 L335.80,88.90 L336.35,88.90 L336.90,88.90" fill="none" stroke="#606060" stroke-width="0.85"/>
<path d="M270.6,21.7 L337.4,21.7" fill="none" stroke="#b4b4b4" stroke-width="1.1"/>
<path d="M337.4,21.7 L337.4,88.9" fill="none" stroke="#858585" stroke-width="1"/>
<path d="M270.6,21.7 L270.6,88.9 L337.4,88.9" fill="none" stroke="#555" stroke-width="1"/>
<line x1="269.0" y1="88.90" x2="270.6" y2="88.90" stroke="#666" stroke-width="0.5"/>
<line x1="269.70000000000005" y1="85.73" x2="270.6" y2="85.73" stroke="#666" stroke-width="0.5"/>
<line x1="269.70000000000005" y1="82.56" x2="270.6" y2="82.56" stroke="#666" stroke-width="0.5"/>
<line x1="269.70000000000005" y1="79.39" x2="270.6" y2="79.39" stroke="#666" stroke-width="0.5"/>
<line x1="269.0" y1="76.22" x2="270.6" y2="76.22" stroke="#666" stroke-width="0.5"/>
<text x="268.40000000000003" y="77.42" text-anchor="end" font-family="Liberation Sans, sans-serif" font-size="3.5" fill="#3a3a3a">20</text>
<line x1="269.70000000000005" y1="73.05" x2="270.6" y2="73.05" stroke="#666" stroke-width="0.5"/>
<line x1="269.70000000000005" y1="69.88" x2="270.6" y2="69.88" stroke="#666" stroke-width="0.5"/>
<line x1="269.70000000000005" y1="66.71" x2="270.6" y2="66.71" stroke="#666" stroke-width="0.5"/>
<line x1="269.0" y1="63.54" x2="270.6" y2="63.54" stroke="#666" stroke-width="0.5"/>
<text x="268.40000000000003" y="64.74" text-anchor="end" font-family="Liberation Sans, sans-serif" font-size="3.5" fill="#3a3a3a">40</text>
<line x1="269.70000000000005" y1="60.37" x2="270.6" y2="60.37" stroke="#666" stroke-width="0.5"/>
<line x1="269.70000000000005" y1="57.20" x2="270.6" y2="57.20" stroke="#666" stroke-width="0.5"/>
<line x1="269.70000000000005" y1="54.03" x2="270.6" y2="54.03" stroke="#666" stroke-width="0.5"/>
<line x1="269.0" y1="50.86" x2="270.6" y2="50.86" stroke="#666" stroke-width="0.5"/>
<text x="268.40000000000003" y="52.06" text-anchor="end" font-family="Liberation Sans, sans-serif" font-size="3.5" fill="#3a3a3a">60</text>
<line x1="269.70000000000005" y1="47.69" x2="270.6" y2="47.69" stroke="#666" stroke-width="0.5"/>
<line x1="269.70000000000005" y1="44.52" x2="270.6" y2="44.52" stroke="#666" stroke-width="0.5"/>
<line x1="269.70000000000005" y1="41.35" x2="270.6" y2="41.35" stroke="#666" stroke-width="0.5"/>
<line x1="269.0" y1="38.18" x2="270.6" y2="38.18" stroke="#666" stroke-width="0.5"/>
<text x="268.40000000000003" y="39.38" text-anchor="end" font-family="Liberation Sans, sans-serif" font-size="3.5" fill="#3a3a3a">80</text>
<line x1="269.70000000000005" y1="35.01" x2="270.6" y2="35.01" stroke="#666" stroke-width="0.5"/>
<line x1="269.70000000000005" y1="31.84" x2="270.6" y2="31.84" stroke="#666" stroke-width="0.5"/>
<line x1="269.70000000000005" y1="28.67" x2="270.6" y2="28.67" stroke="#666" stroke-width="0.5"/>
<line x1="269.0" y1="25.50" x2="270.6" y2="25.50" stroke="#666" stroke-width="0.5"/>
<text x="268.40000000000003" y="26.70" text-anchor="end" font-family="Liberation Sans, sans-serif" font-size="3.5" fill="#3a3a3a">100</text>
<line x1="270.60" y1="88.9" x2="270.60" y2="90.5" stroke="#666" stroke-width="0.5"/>
<text x="271.30" y="97.80" text-anchor="middle" font-family="Liberation Sans, sans-serif" font-size="3.3" fill="#3a3a3a">10</text>
<text x="273.20" y="95.90" font-family="Liberation Sans, sans-serif" font-size="2.5" fill="#3a3a3a">0</text>
<line x1="275.63" y1="88.9" x2="275.63" y2="89.80000000000001" stroke="#777" stroke-width="0.4"/>
<line x1="278.57" y1="88.9" x2="278.57" y2="89.80000000000001" stroke="#777" stroke-width="0.4"/>
<line x1="280.65" y1="88.9" x2="280.65" y2="89.80000000000001" stroke="#777" stroke-width="0.4"/>
<line x1="282.27" y1="88.9" x2="282.27" y2="89.80000000000001" stroke="#777" stroke-width="0.4"/>
<line x1="283.60" y1="88.9" x2="283.60" y2="89.80000000000001" stroke="#777" stroke-width="0.4"/>
<line x1="284.71" y1="88.9" x2="284.71" y2="89.80000000000001" stroke="#777" stroke-width="0.4"/>
<line x1="285.68" y1="88.9" x2="285.68" y2="89.80000000000001" stroke="#777" stroke-width="0.4"/>
<line x1="286.54" y1="88.9" x2="286.54" y2="89.80000000000001" stroke="#777" stroke-width="0.4"/>
<line x1="287.30" y1="88.9" x2="287.30" y2="90.5" stroke="#666" stroke-width="0.5"/>
<text x="288.00" y="97.80" text-anchor="middle" font-family="Liberation Sans, sans-serif" font-size="3.3" fill="#3a3a3a">10</text>
<text x="289.90" y="95.90" font-family="Liberation Sans, sans-serif" font-size="2.5" fill="#3a3a3a">1</text>
<line x1="292.33" y1="88.9" x2="292.33" y2="89.80000000000001" stroke="#777" stroke-width="0.4"/>
<line x1="295.27" y1="88.9" x2="295.27" y2="89.80000000000001" stroke="#777" stroke-width="0.4"/>
<line x1="297.35" y1="88.9" x2="297.35" y2="89.80000000000001" stroke="#777" stroke-width="0.4"/>
<line x1="298.97" y1="88.9" x2="298.97" y2="89.80000000000001" stroke="#777" stroke-width="0.4"/>
<line x1="300.30" y1="88.9" x2="300.30" y2="89.80000000000001" stroke="#777" stroke-width="0.4"/>
<line x1="301.41" y1="88.9" x2="301.41" y2="89.80000000000001" stroke="#777" stroke-width="0.4"/>
<line x1="302.38" y1="88.9" x2="302.38" y2="89.80000000000001" stroke="#777" stroke-width="0.4"/>
<line x1="303.24" y1="88.9" x2="303.24" y2="89.80000000000001" stroke="#777" stroke-width="0.4"/>
<line x1="304.00" y1="88.9" x2="304.00" y2="90.5" stroke="#666" stroke-width="0.5"/>
<text x="304.70" y="97.80" text-anchor="middle" font-family="Liberation Sans, sans-serif" font-size="3.3" fill="#3a3a3a">10</text>
<text x="306.60" y="95.90" font-family="Liberation Sans, sans-serif" font-size="2.5" fill="#3a3a3a">2</text>
<line x1="309.03" y1="88.9" x2="309.03" y2="89.80000000000001" stroke="#777" stroke-width="0.4"/>
<line x1="311.97" y1="88.9" x2="311.97" y2="89.80000000000001" stroke="#777" stroke-width="0.4"/>
<line x1="314.05" y1="88.9" x2="314.05" y2="89.80000000000001" stroke="#777" stroke-width="0.4"/>
<line x1="315.67" y1="88.9" x2="315.67" y2="89.80000000000001" stroke="#777" stroke-width="0.4"/>
<line x1="317.00" y1="88.9" x2="317.00" y2="89.80000000000001" stroke="#777" stroke-width="0.4"/>
<line x1="318.11" y1="88.9" x2="318.11" y2="89.80000000000001" stroke="#777" stroke-width="0.4"/>
<line x1="319.08" y1="88.9" x2="319.08" y2="89.80000000000001" stroke="#777" stroke-width="0.4"/>
<line x1="319.94" y1="88.9" x2="319.94" y2="89.80000000000001" stroke="#777" stroke-width="0.4"/>
<line x1="320.70" y1="88.9" x2="320.70" y2="90.5" stroke="#666" stroke-width="0.5"/>
<text x="321.40" y="97.80" text-anchor="middle" font-family="Liberation Sans, sans-serif" font-size="3.3" fill="#3a3a3a">10</text>
<text x="323.30" y="95.90" font-family="Liberation Sans, sans-serif" font-size="2.5" fill="#3a3a3a">3</text>
<line x1="325.73" y1="88.9" x2="325.73" y2="89.80000000000001" stroke="#777" stroke-width="0.4"/>
<line x1="328.67" y1="88.9" x2="328.67" y2="89.80000000000001" stroke="#777" stroke-width="0.4"/>
<line x1="330.75" y1="88.9" x2="330.75" y2="89.80000000000001" stroke="#777" stroke-width="0.4"/>
<line x1="332.37" y1="88.9" x2="332.37" y2="89.80000000000001" stroke="#777" stroke-width="0.4"/>
<line x1="333.70" y1="88.9" x2="333.70" y2="89.80000000000001" stroke="#777" stroke-width="0.4"/>
<line x1="334.81" y1="88.9" x2="334.81" y2="89.80000000000001" stroke="#777" stroke-width="0.4"/>
<line x1="335.78" y1="88.9" x2="335.78" y2="89.80000000000001" stroke="#777" stroke-width="0.4"/>
<line x1="336.64" y1="88.9" x2="336.64" y2="89.80000000000001" stroke="#777" stroke-width="0.4"/>
<line x1="337.40" y1="88.9" x2="337.40" y2="90.5" stroke="#666" stroke-width="0.5"/>
<text x="338.10" y="97.80" text-anchor="middle" font-family="Liberation Sans, sans-serif" font-size="3.3" fill="#3a3a3a">10</text>
<text x="340.00" y="95.90" font-family="Liberation Sans, sans-serif" font-size="2.5" fill="#3a3a3a">4</text>
<line x1="288.6" y1="55.8" x2="336.6" y2="55.8" stroke="#555" stroke-width="0.7"/>
<line x1="288.6" y1="54.5" x2="288.6" y2="57.099999999999994" stroke="#555" stroke-width="0.6"/>
<line x1="336.6" y1="54.5" x2="336.6" y2="57.099999999999994" stroke="#555" stroke-width="0.6"/>
<text x="305.1" y="49.800000000000004" font-family="Liberation Sans, sans-serif" font-size="3.4" fill="#3a3a3a">PE subset</text>
<text x="305.1" y="53.800000000000004" font-family="Liberation Sans, sans-serif" font-size="3.4" fill="#3a3a3a">97.81</text>
<text x="383.7" y="14.8" text-anchor="middle" font-family="Liberation Sans, sans-serif" font-weight="bold" font-size="8.5" fill="#111">L-128</text>
<path d="M353.10,89.70 L353.64,89.70 L354.18,89.70 L354.72,89.70 L355.26,89.70 L355.80,89.70 L356.34,89.69 L356.88,89.69 L357.42,89.69 L357.96,89.69 L358.50,89.68 L359.04,89.68 L359.58,89.67 L360.12,89.67 L360.66,89.66 L361.20,89.65 L361.74,89.63 L362.28,89.62 L362.82,89.60 L363.36,89.58 L363.90,89.55 L364.44,89.53 L364.98,89.49 L365.52,89.45 L366.06,89.41 L366.60,89.36 L367.14,89.30 L367.68,89.23 L368.22,89.15 L368.76,89.06 L369.30,88.95 L369.84,88.81 L370.38,88.63 L370.92,88.39 L371.46,88.07 L372.00,87.62 L372.54,87.00 L373.08,86.12 L373.62,84.92 L374.16,83.30 L374.70,81.17 L375.24,78.43 L375.78,75.04 L376.32,70.95 L376.86,66.21 L377.40,60.92 L377.94,55.27 L378.48,49.51 L379.02,43.96 L379.56,38.97 L380.10,34.90 L380.64,32.04 L381.18,30.63 L381.72,30.93 L382.26,33.55 L382.80,38.22 L383.34,44.41 L383.88,51.42 L384.42,58.60 L384.96,65.37 L385.50,71.32 L386.04,76.25 L386.58,80.11 L387.12,82.98 L387.66,85.04 L388.20,86.45 L388.74,87.39 L389.28,88.01 L389.82,88.42 L390.36,88.70 L390.90,88.89 L391.44,89.04 L391.98,89.16 L392.52,89.25 L393.06,89.33 L393.60,89.40 L394.14,89.46 L394.68,89.50 L395.22,89.54 L395.76,89.58 L396.30,89.60 L396.84,89.62 L397.38,89.64 L397.92,89.66 L398.46,89.67 L399.00,89.67 L399.54,89.68 L400.08,89.69 L400.62,89.69 L401.16,89.69 L401.70,89.69 L402.24,89.70 L402.78,89.70 L403.32,89.70 L403.86,89.70 L404.40,89.70 L404.94,89.70 L405.48,89.70 L406.02,89.70 L406.56,89.70 L407.10,89.70 L407.64,89.70 L408.18,89.70 L408.72,89.70 L409.26,89.70 L409.80,89.70 L410.34,89.70 L410.88,89.70 L411.42,89.70 L411.96,89.70 L412.50,89.70 L413.04,89.70 L413.58,89.70 L414.12,89.70 L414.66,89.70 L415.20,89.70 L415.74,89.70 L416.28,89.70 L416.82,89.70 L417.36,89.70 L417.90,89.70 L417.90,89.70 L353.10,89.70 Z" fill="#ececec" stroke="#808080" stroke-width="0.85"/>
<path d="M353.10,88.95 L353.64,88.84 L354.18,88.71 L354.72,88.54 L355.26,88.32 L355.80,88.03 L356.34,87.65 L356.88,87.15 L357.42,86.48 L357.96,85.59 L358.50,84.43 L359.04,82.93 L359.58,81.03 L360.12,78.68 L360.66,75.81 L361.20,72.41 L361.74,68.48 L362.28,64.05 L362.82,59.20 L363.36,54.06 L363.90,48.80 L364.44,43.63 L364.98,38.77 L365.52,34.46 L366.06,30.94 L366.60,28.39 L367.14,26.97 L367.68,26.87 L368.22,29.30 L368.76,34.31 L369.30,41.23 L369.84,49.19 L370.38,57.32 L370.92,64.90 L371.46,71.44 L372.00,76.72 L372.54,80.71 L373.08,83.59 L373.62,85.55 L374.16,86.85 L374.70,87.69 L375.24,88.22 L375.78,88.57 L376.32,88.81 L376.86,88.98 L377.40,89.12 L377.94,89.23 L378.48,89.32 L379.02,89.39 L379.56,89.45 L380.10,89.50 L380.64,89.55 L381.18,89.58 L381.72,89.61 L382.26,89.63 L382.80,89.65 L383.34,89.66 L383.88,89.67 L384.42,89.68 L384.96,89.68 L385.50,89.69 L386.04,89.69 L386.58,89.69 L387.12,89.70 L387.66,89.70 L388.20,89.70 L388.74,89.70 L389.28,89.70 L389.82,89.70 L390.36,89.70 L390.90,89.70 L391.44,89.70 L391.98,89.70 L392.52,89.70 L393.06,89.70 L393.60,89.70 L394.14,89.70 L394.68,89.70 L395.22,89.70 L395.76,89.70 L396.30,89.70 L396.84,89.70 L397.38,89.70 L397.92,89.70 L398.46,89.70 L399.00,89.70 L399.54,89.70 L400.08,89.70 L400.62,89.70 L401.16,89.70 L401.70,89.70 L402.24,89.70 L402.78,89.70 L403.32,89.70 L403.86,89.70 L404.40,89.70 L404.94,89.70 L405.48,89.70 L406.02,89.70 L406.56,89.70 L407.10,89.70 L407.64,89.70 L408.18,89.70 L408.72,89.70 L409.26,89.70 L409.80,89.70 L410.34,89.70 L410.88,89.70 L411.42,89.70 L411.96,89.70 L412.50,89.70 L413.04,89.70 L413.58,89.70 L414.12,89.70 L414.66,89.70 L415.20,89.70 L415.74,89.70 L416.28,89.70 L416.82,89.70 L417.36,89.70 L417.90,89.70" fill="none" stroke="#606060" stroke-width="0.85"/>
<path d="M352.6,21.0 L418.4,21.0" fill="none" stroke="#b4b4b4" stroke-width="1.1"/>
<path d="M418.4,21.0 L418.4,89.7" fill="none" stroke="#858585" stroke-width="1"/>
<path d="M352.6,21.0 L352.6,89.7 L418.4,89.7" fill="none" stroke="#555" stroke-width="1"/>
<line x1="351.0" y1="89.70" x2="352.6" y2="89.70" stroke="#666" stroke-width="0.5"/>
<line x1="351.70000000000005" y1="86.45" x2="352.6" y2="86.45" stroke="#666" stroke-width="0.5"/>
<line x1="351.70000000000005" y1="83.21" x2="352.6" y2="83.21" stroke="#666" stroke-width="0.5"/>
<line x1="351.70000000000005" y1="79.97" x2="352.6" y2="79.97" stroke="#666" stroke-width="0.5"/>
<line x1="351.0" y1="76.72" x2="352.6" y2="76.72" stroke="#666" stroke-width="0.5"/>
<text x="350.40000000000003" y="77.92" text-anchor="end" font-family="Liberation Sans, sans-serif" font-size="3.5" fill="#3a3a3a">20</text>
<line x1="351.70000000000005" y1="73.47" x2="352.6" y2="73.47" stroke="#666" stroke-width="0.5"/>
<line x1="351.70000000000005" y1="70.23" x2="352.6" y2="70.23" stroke="#666" stroke-width="0.5"/>
<line x1="351.70000000000005" y1="66.98" x2="352.6" y2="66.98" stroke="#666" stroke-width="0.5"/>
<line x1="351.0" y1="63.74" x2="352.6" y2="63.74" stroke="#666" stroke-width="0.5"/>
<text x="350.40000000000003" y="64.94" text-anchor="end" font-family="Liberation Sans, sans-serif" font-size="3.5" fill="#3a3a3a">40</text>
<line x1="351.70000000000005" y1="60.50" x2="352.6" y2="60.50" stroke="#666" stroke-width="0.5"/>
<line x1="351.70000000000005" y1="57.25" x2="352.6" y2="57.25" stroke="#666" stroke-width="0.5"/>
<line x1="351.70000000000005" y1="54.01" x2="352.6" y2="54.01" stroke="#666" stroke-width="0.5"/>
<line x1="351.0" y1="50.76" x2="352.6" y2="50.76" stroke="#666" stroke-width="0.5"/>
<text x="350.40000000000003" y="51.96" text-anchor="end" font-family="Liberation Sans, sans-serif" font-size="3.5" fill="#3a3a3a">60</text>
<line x1="351.70000000000005" y1="47.52" x2="352.6" y2="47.52" stroke="#666" stroke-width="0.5"/>
<line x1="351.70000000000005" y1="44.27" x2="352.6" y2="44.27" stroke="#666" stroke-width="0.5"/>
<line x1="351.70000000000005" y1="41.02" x2="352.6" y2="41.02" stroke="#666" stroke-width="0.5"/>
<line x1="351.0" y1="37.78" x2="352.6" y2="37.78" stroke="#666" stroke-width="0.5"/>
<text x="350.40000000000003" y="38.98" text-anchor="end" font-family="Liberation Sans, sans-serif" font-size="3.5" fill="#3a3a3a">80</text>
<line x1="351.70000000000005" y1="34.54" x2="352.6" y2="34.54" stroke="#666" stroke-width="0.5"/>
<line x1="351.70000000000005" y1="31.29" x2="352.6" y2="31.29" stroke="#666" stroke-width="0.5"/>
<line x1="351.70000000000005" y1="28.05" x2="352.6" y2="28.05" stroke="#666" stroke-width="0.5"/>
<line x1="351.0" y1="24.80" x2="352.6" y2="24.80" stroke="#666" stroke-width="0.5"/>
<text x="350.40000000000003" y="26.00" text-anchor="end" font-family="Liberation Sans, sans-serif" font-size="3.5" fill="#3a3a3a">100</text>
<line x1="352.60" y1="89.7" x2="352.60" y2="91.3" stroke="#666" stroke-width="0.5"/>
<text x="353.30" y="98.60" text-anchor="middle" font-family="Liberation Sans, sans-serif" font-size="3.3" fill="#3a3a3a">10</text>
<text x="355.20" y="96.70" font-family="Liberation Sans, sans-serif" font-size="2.5" fill="#3a3a3a">0</text>
<line x1="357.55" y1="89.7" x2="357.55" y2="90.60000000000001" stroke="#777" stroke-width="0.4"/>
<line x1="360.45" y1="89.7" x2="360.45" y2="90.60000000000001" stroke="#777" stroke-width="0.4"/>
<line x1="362.50" y1="89.7" x2="362.50" y2="90.60000000000001" stroke="#777" stroke-width="0.4"/>
<line x1="364.10" y1="89.7" x2="364.10" y2="90.60000000000001" stroke="#777" stroke-width="0.4"/>
<line x1="365.40" y1="89.7" x2="365.40" y2="90.60000000000001" stroke="#777" stroke-width="0.4"/>
<line x1="366.50" y1="89.7" x2="366.50" y2="90.60000000000001" stroke="#777" stroke-width="0.4"/>
<line x1="367.46" y1="89.7" x2="367.46" y2="90.60000000000001" stroke="#777" stroke-width="0.4"/>
<line x1="368.30" y1="89.7" x2="368.30" y2="90.60000000000001" stroke="#777" stroke-width="0.4"/>
<line x1="369.05" y1="89.7" x2="369.05" y2="91.3" stroke="#666" stroke-width="0.5"/>
<text x="369.75" y="98.60" text-anchor="middle" font-family="Liberation Sans, sans-serif" font-size="3.3" fill="#3a3a3a">10</text>
<text x="371.65" y="96.70" font-family="Liberation Sans, sans-serif" font-size="2.5" fill="#3a3a3a">1</text>
<line x1="374.00" y1="89.7" x2="374.00" y2="90.60000000000001" stroke="#777" stroke-width="0.4"/>
<line x1="376.90" y1="89.7" x2="376.90" y2="90.60000000000001" stroke="#777" stroke-width="0.4"/>
<line x1="378.95" y1="89.7" x2="378.95" y2="90.60000000000001" stroke="#777" stroke-width="0.4"/>
<line x1="380.55" y1="89.7" x2="380.55" y2="90.60000000000001" stroke="#777" stroke-width="0.4"/>
<line x1="381.85" y1="89.7" x2="381.85" y2="90.60000000000001" stroke="#777" stroke-width="0.4"/>
<line x1="382.95" y1="89.7" x2="382.95" y2="90.60000000000001" stroke="#777" stroke-width="0.4"/>
<line x1="383.91" y1="89.7" x2="383.91" y2="90.60000000000001" stroke="#777" stroke-width="0.4"/>
<line x1="384.75" y1="89.7" x2="384.75" y2="90.60000000000001" stroke="#777" stroke-width="0.4"/>
<line x1="385.50" y1="89.7" x2="385.50" y2="91.3" stroke="#666" stroke-width="0.5"/>
<text x="386.20" y="98.60" text-anchor="middle" font-family="Liberation Sans, sans-serif" font-size="3.3" fill="#3a3a3a">10</text>
<text x="388.10" y="96.70" font-family="Liberation Sans, sans-serif" font-size="2.5" fill="#3a3a3a">2</text>
<line x1="390.45" y1="89.7" x2="390.45" y2="90.60000000000001" stroke="#777" stroke-width="0.4"/>
<line x1="393.35" y1="89.7" x2="393.35" y2="90.60000000000001" stroke="#777" stroke-width="0.4"/>
<line x1="395.40" y1="89.7" x2="395.40" y2="90.60000000000001" stroke="#777" stroke-width="0.4"/>
<line x1="397.00" y1="89.7" x2="397.00" y2="90.60000000000001" stroke="#777" stroke-width="0.4"/>
<line x1="398.30" y1="89.7" x2="398.30" y2="90.60000000000001" stroke="#777" stroke-width="0.4"/>
<line x1="399.40" y1="89.7" x2="399.40" y2="90.60000000000001" stroke="#777" stroke-width="0.4"/>
<line x1="400.36" y1="89.7" x2="400.36" y2="90.60000000000001" stroke="#777" stroke-width="0.4"/>
<line x1="401.20" y1="89.7" x2="401.20" y2="90.60000000000001" stroke="#777" stroke-width="0.4"/>
<line x1="401.95" y1="89.7" x2="401.95" y2="91.3" stroke="#666" stroke-width="0.5"/>
<text x="402.65" y="98.60" text-anchor="middle" font-family="Liberation Sans, sans-serif" font-size="3.3" fill="#3a3a3a">10</text>
<text x="404.55" y="96.70" font-family="Liberation Sans, sans-serif" font-size="2.5" fill="#3a3a3a">3</text>
<line x1="406.90" y1="89.7" x2="406.90" y2="90.60000000000001" stroke="#777" stroke-width="0.4"/>
<line x1="409.80" y1="89.7" x2="409.80" y2="90.60000000000001" stroke="#777" stroke-width="0.4"/>
<line x1="411.85" y1="89.7" x2="411.85" y2="90.60000000000001" stroke="#777" stroke-width="0.4"/>
<line x1="413.45" y1="89.7" x2="413.45" y2="90.60000000000001" stroke="#777" stroke-width="0.4"/>
<line x1="414.75" y1="89.7" x2="414.75" y2="90.60000000000001" stroke="#777" stroke-width="0.4"/>
<line x1="415.85" y1="89.7" x2="415.85" y2="90.60000000000001" stroke="#777" stroke-width="0.4"/>
<line x1="416.81" y1="89.7" x2="416.81" y2="90.60000000000001" stroke="#777" stroke-width="0.4"/>
<line x1="417.65" y1="89.7" x2="417.65" y2="90.60000000000001" stroke="#777" stroke-width="0.4"/>
<line x1="418.40" y1="89.7" x2="418.40" y2="91.3" stroke="#666" stroke-width="0.5"/>
<text x="419.10" y="98.60" text-anchor="middle" font-family="Liberation Sans, sans-serif" font-size="3.3" fill="#3a3a3a">10</text>
<text x="421.00" y="96.70" font-family="Liberation Sans, sans-serif" font-size="2.5" fill="#3a3a3a">4</text>
<line x1="372.5" y1="55.4" x2="415.7" y2="55.4" stroke="#555" stroke-width="0.7"/>
<line x1="372.5" y1="54.1" x2="372.5" y2="56.699999999999996" stroke="#555" stroke-width="0.6"/>
<line x1="415.7" y1="54.1" x2="415.7" y2="56.699999999999996" stroke="#555" stroke-width="0.6"/>
<text x="386.3" y="49.800000000000004" font-family="Liberation Sans, sans-serif" font-size="3.4" fill="#3a3a3a">PE subset</text>
<text x="386.3" y="53.800000000000004" font-family="Liberation Sans, sans-serif" font-size="3.4" fill="#3a3a3a">98.28</text>
<text x="465.3" y="14.8" text-anchor="middle" font-family="Liberation Sans, sans-serif" font-weight="bold" font-size="8.5" fill="#111">HBL-2</text>
<path d="M433.40,89.90 L433.95,89.90 L434.50,89.90 L435.04,89.90 L435.59,89.90 L436.14,89.90 L436.69,89.89 L437.24,89.89 L437.79,89.89 L438.33,89.89 L438.88,89.88 L439.43,89.88 L439.98,89.87 L440.53,89.86 L441.08,89.85 L441.62,89.83 L442.17,89.82 L442.72,89.80 L443.27,89.77 L443.82,89.74 L444.37,89.70 L444.91,89.66 L445.46,89.61 L446.01,89.55 L446.56,89.48 L447.11,89.40 L447.66,89.31 L448.20,89.20 L448.75,89.06 L449.30,88.87 L449.85,88.63 L450.40,88.28 L450.95,87.79 L451.50,87.06 L452.04,86.01 L452.59,84.50 L453.14,82.40 L453.69,79.56 L454.24,75.87 L454.78,71.24 L455.33,65.71 L455.88,59.40 L456.43,52.59 L456.98,45.67 L457.53,39.13 L458.07,33.53 L458.62,29.38 L459.17,27.08 L459.72,26.81 L460.27,28.01 L460.82,30.48 L461.37,34.05 L461.91,38.50 L462.46,43.58 L463.01,49.00 L463.56,54.52 L464.11,59.88 L464.65,64.91 L465.20,69.47 L465.75,73.46 L466.30,76.87 L466.85,79.70 L467.40,81.99 L467.94,83.81 L468.49,85.21 L469.04,86.27 L469.59,87.07 L470.14,87.67 L470.69,88.11 L471.24,88.44 L471.78,88.68 L472.33,88.87 L472.88,89.02 L473.43,89.14 L473.98,89.24 L474.52,89.33 L475.07,89.40 L475.62,89.46 L476.17,89.52 L476.72,89.57 L477.27,89.62 L477.81,89.66 L478.36,89.69 L478.91,89.72 L479.46,89.75 L480.01,89.77 L480.56,89.79 L481.11,89.81 L481.65,89.83 L482.20,89.84 L482.75,89.85 L483.30,89.86 L483.85,89.87 L484.39,89.87 L484.94,89.88 L485.49,89.88 L486.04,89.89 L486.59,89.89 L487.14,89.89 L487.69,89.89 L488.23,89.89 L488.78,89.90 L489.33,89.90 L489.88,89.90 L490.43,89.90 L490.97,89.90 L491.52,89.90 L492.07,89.90 L492.62,89.90 L493.17,89.90 L493.72,89.90 L494.26,89.90 L494.81,89.90 L495.36,89.90 L495.91,89.90 L496.46,89.90 L497.01,89.90 L497.56,89.90 L498.10,89.90 L498.65,89.90 L499.20,89.90 L499.20,89.90 L433.40,89.90 Z" fill="#ececec" stroke="#808080" stroke-width="0.85"/>
<path d="M433.40,85.15 L433.95,83.73 L434.50,81.89 L435.04,79.57 L435.59,76.71 L436.14,73.25 L436.69,69.19 L437.24,64.57 L437.79,59.47 L438.33,54.02 L438.88,48.42 L439.43,42.91 L439.98,37.75 L440.53,33.21 L441.08,29.58 L441.62,27.06 L442.17,25.82 L442.72,25.86 L443.27,26.88 L443.82,28.78 L444.37,31.49 L444.91,34.89 L445.46,38.83 L446.01,43.17 L446.56,47.74 L447.11,52.39 L447.66,56.98 L448.20,61.39 L448.75,65.52 L449.30,69.30 L449.85,72.69 L450.40,75.68 L450.95,78.25 L451.50,80.43 L452.04,82.24 L452.59,83.73 L453.14,84.93 L453.69,85.89 L454.24,86.65 L454.78,87.25 L455.33,87.71 L455.88,88.08 L456.43,88.36 L456.98,88.58 L457.53,88.76 L458.07,88.90 L458.62,89.02 L459.17,89.12 L459.72,89.21 L460.27,89.29 L460.82,89.35 L461.37,89.41 L461.91,89.46 L462.46,89.51 L463.01,89.56 L463.56,89.60 L464.11,89.63 L464.65,89.66 L465.20,89.69 L465.75,89.72 L466.30,89.74 L466.85,89.76 L467.40,89.78 L467.94,89.80 L468.49,89.81 L469.04,89.82 L469.59,89.83 L470.14,89.84 L470.69,89.85 L471.24,89.86 L471.78,89.87 L472.33,89.87 L472.88,89.88 L473.43,89.88 L473.98,89.88 L474.52,89.89 L475.07,89.89 L475.62,89.89 L476.17,89.89 L476.72,89.89 L477.27,89.89 L477.81,89.90 L478.36,89.90 L478.91,89.90 L479.46,89.90 L480.01,89.90 L480.56,89.90 L481.11,89.90 L481.65,89.90 L482.20,89.90 L482.75,89.90 L483.30,89.90 L483.85,89.90 L484.39,89.90 L484.94,89.90 L485.49,89.90 L486.04,89.90 L486.59,89.90 L487.14,89.90 L487.69,89.90 L488.23,89.90 L488.78,89.90 L489.33,89.90 L489.88,89.90 L490.43,89.90 L490.97,89.90 L491.52,89.90 L492.07,89.90 L492.62,89.90 L493.17,89.90 L493.72,89.90 L494.26,89.90 L494.81,89.90 L495.36,89.90 L495.91,89.90 L496.46,89.90 L497.01,89.90 L497.56,89.90 L498.10,89.90 L498.65,89.90 L499.20,89.90" fill="none" stroke="#606060" stroke-width="0.85"/>
<path d="M432.9,20.4 L499.7,20.4" fill="none" stroke="#b4b4b4" stroke-width="1.1"/>
<path d="M499.7,20.4 L499.7,89.9" fill="none" stroke="#858585" stroke-width="1"/>
<path d="M432.9,20.4 L432.9,89.9 L499.7,89.9" fill="none" stroke="#555" stroke-width="1"/>
<line x1="431.29999999999995" y1="89.90" x2="432.9" y2="89.90" stroke="#666" stroke-width="0.5"/>
<line x1="432.0" y1="86.62" x2="432.9" y2="86.62" stroke="#666" stroke-width="0.5"/>
<line x1="432.0" y1="83.33" x2="432.9" y2="83.33" stroke="#666" stroke-width="0.5"/>
<line x1="432.0" y1="80.05" x2="432.9" y2="80.05" stroke="#666" stroke-width="0.5"/>
<line x1="431.29999999999995" y1="76.76" x2="432.9" y2="76.76" stroke="#666" stroke-width="0.5"/>
<text x="430.7" y="77.96" text-anchor="end" font-family="Liberation Sans, sans-serif" font-size="3.5" fill="#3a3a3a">20</text>
<line x1="432.0" y1="73.48" x2="432.9" y2="73.48" stroke="#666" stroke-width="0.5"/>
<line x1="432.0" y1="70.19" x2="432.9" y2="70.19" stroke="#666" stroke-width="0.5"/>
<line x1="432.0" y1="66.91" x2="432.9" y2="66.91" stroke="#666" stroke-width="0.5"/>
<line x1="431.29999999999995" y1="63.62" x2="432.9" y2="63.62" stroke="#666" stroke-width="0.5"/>
<text x="430.7" y="64.82" text-anchor="end" font-family="Liberation Sans, sans-serif" font-size="3.5" fill="#3a3a3a">40</text>
<line x1="432.0" y1="60.34" x2="432.9" y2="60.34" stroke="#666" stroke-width="0.5"/>
<line x1="432.0" y1="57.05" x2="432.9" y2="57.05" stroke="#666" stroke-width="0.5"/>
<line x1="432.0" y1="53.77" x2="432.9" y2="53.77" stroke="#666" stroke-width="0.5"/>
<line x1="431.29999999999995" y1="50.48" x2="432.9" y2="50.48" stroke="#666" stroke-width="0.5"/>
<text x="430.7" y="51.68" text-anchor="end" font-family="Liberation Sans, sans-serif" font-size="3.5" fill="#3a3a3a">60</text>
<line x1="432.0" y1="47.20" x2="432.9" y2="47.20" stroke="#666" stroke-width="0.5"/>
<line x1="432.0" y1="43.91" x2="432.9" y2="43.91" stroke="#666" stroke-width="0.5"/>
<line x1="432.0" y1="40.62" x2="432.9" y2="40.62" stroke="#666" stroke-width="0.5"/>
<line x1="431.29999999999995" y1="37.34" x2="432.9" y2="37.34" stroke="#666" stroke-width="0.5"/>
<text x="430.7" y="38.54" text-anchor="end" font-family="Liberation Sans, sans-serif" font-size="3.5" fill="#3a3a3a">80</text>
<line x1="432.0" y1="34.06" x2="432.9" y2="34.06" stroke="#666" stroke-width="0.5"/>
<line x1="432.0" y1="30.77" x2="432.9" y2="30.77" stroke="#666" stroke-width="0.5"/>
<line x1="432.0" y1="27.48" x2="432.9" y2="27.48" stroke="#666" stroke-width="0.5"/>
<line x1="431.29999999999995" y1="24.20" x2="432.9" y2="24.20" stroke="#666" stroke-width="0.5"/>
<text x="430.7" y="25.40" text-anchor="end" font-family="Liberation Sans, sans-serif" font-size="3.5" fill="#3a3a3a">100</text>
<line x1="432.90" y1="89.9" x2="432.90" y2="91.5" stroke="#666" stroke-width="0.5"/>
<text x="433.60" y="98.80" text-anchor="middle" font-family="Liberation Sans, sans-serif" font-size="3.3" fill="#3a3a3a">10</text>
<text x="435.50" y="96.90" font-family="Liberation Sans, sans-serif" font-size="2.5" fill="#3a3a3a">0</text>
<line x1="437.93" y1="89.9" x2="437.93" y2="90.80000000000001" stroke="#777" stroke-width="0.4"/>
<line x1="440.87" y1="89.9" x2="440.87" y2="90.80000000000001" stroke="#777" stroke-width="0.4"/>
<line x1="442.95" y1="89.9" x2="442.95" y2="90.80000000000001" stroke="#777" stroke-width="0.4"/>
<line x1="444.57" y1="89.9" x2="444.57" y2="90.80000000000001" stroke="#777" stroke-width="0.4"/>
<line x1="445.90" y1="89.9" x2="445.90" y2="90.80000000000001" stroke="#777" stroke-width="0.4"/>
<line x1="447.01" y1="89.9" x2="447.01" y2="90.80000000000001" stroke="#777" stroke-width="0.4"/>
<line x1="447.98" y1="89.9" x2="447.98" y2="90.80000000000001" stroke="#777" stroke-width="0.4"/>
<line x1="448.84" y1="89.9" x2="448.84" y2="90.80000000000001" stroke="#777" stroke-width="0.4"/>
<line x1="449.60" y1="89.9" x2="449.60" y2="91.5" stroke="#666" stroke-width="0.5"/>
<text x="450.30" y="98.80" text-anchor="middle" font-family="Liberation Sans, sans-serif" font-size="3.3" fill="#3a3a3a">10</text>
<text x="452.20" y="96.90" font-family="Liberation Sans, sans-serif" font-size="2.5" fill="#3a3a3a">1</text>
<line x1="454.63" y1="89.9" x2="454.63" y2="90.80000000000001" stroke="#777" stroke-width="0.4"/>
<line x1="457.57" y1="89.9" x2="457.57" y2="90.80000000000001" stroke="#777" stroke-width="0.4"/>
<line x1="459.65" y1="89.9" x2="459.65" y2="90.80000000000001" stroke="#777" stroke-width="0.4"/>
<line x1="461.27" y1="89.9" x2="461.27" y2="90.80000000000001" stroke="#777" stroke-width="0.4"/>
<line x1="462.60" y1="89.9" x2="462.60" y2="90.80000000000001" stroke="#777" stroke-width="0.4"/>
<line x1="463.71" y1="89.9" x2="463.71" y2="90.80000000000001" stroke="#777" stroke-width="0.4"/>
<line x1="464.68" y1="89.9" x2="464.68" y2="90.80000000000001" stroke="#777" stroke-width="0.4"/>
<line x1="465.54" y1="89.9" x2="465.54" y2="90.80000000000001" stroke="#777" stroke-width="0.4"/>
<line x1="466.30" y1="89.9" x2="466.30" y2="91.5" stroke="#666" stroke-width="0.5"/>
<text x="467.00" y="98.80" text-anchor="middle" font-family="Liberation Sans, sans-serif" font-size="3.3" fill="#3a3a3a">10</text>
<text x="468.90" y="96.90" font-family="Liberation Sans, sans-serif" font-size="2.5" fill="#3a3a3a">2</text>
<line x1="471.33" y1="89.9" x2="471.33" y2="90.80000000000001" stroke="#777" stroke-width="0.4"/>
<line x1="474.27" y1="89.9" x2="474.27" y2="90.80000000000001" stroke="#777" stroke-width="0.4"/>
<line x1="476.35" y1="89.9" x2="476.35" y2="90.80000000000001" stroke="#777" stroke-width="0.4"/>
<line x1="477.97" y1="89.9" x2="477.97" y2="90.80000000000001" stroke="#777" stroke-width="0.4"/>
<line x1="479.30" y1="89.9" x2="479.30" y2="90.80000000000001" stroke="#777" stroke-width="0.4"/>
<line x1="480.41" y1="89.9" x2="480.41" y2="90.80000000000001" stroke="#777" stroke-width="0.4"/>
<line x1="481.38" y1="89.9" x2="481.38" y2="90.80000000000001" stroke="#777" stroke-width="0.4"/>
<line x1="482.24" y1="89.9" x2="482.24" y2="90.80000000000001" stroke="#777" stroke-width="0.4"/>
<line x1="483.00" y1="89.9" x2="483.00" y2="91.5" stroke="#666" stroke-width="0.5"/>
<text x="483.70" y="98.80" text-anchor="middle" font-family="Liberation Sans, sans-serif" font-size="3.3" fill="#3a3a3a">10</text>
<text x="485.60" y="96.90" font-family="Liberation Sans, sans-serif" font-size="2.5" fill="#3a3a3a">3</text>
<line x1="488.03" y1="89.9" x2="488.03" y2="90.80000000000001" stroke="#777" stroke-width="0.4"/>
<line x1="490.97" y1="89.9" x2="490.97" y2="90.80000000000001" stroke="#777" stroke-width="0.4"/>
<line x1="493.05" y1="89.9" x2="493.05" y2="90.80000000000001" stroke="#777" stroke-width="0.4"/>
<line x1="494.67" y1="89.9" x2="494.67" y2="90.80000000000001" stroke="#777" stroke-width="0.4"/>
<line x1="496.00" y1="89.9" x2="496.00" y2="90.80000000000001" stroke="#777" stroke-width="0.4"/>
<line x1="497.11" y1="89.9" x2="497.11" y2="90.80000000000001" stroke="#777" stroke-width="0.4"/>
<line x1="498.08" y1="89.9" x2="498.08" y2="90.80000000000001" stroke="#777" stroke-width="0.4"/>
<line x1="498.94" y1="89.9" x2="498.94" y2="90.80000000000001" stroke="#777" stroke-width="0.4"/>
<line x1="499.70" y1="89.9" x2="499.70" y2="91.5" stroke="#666" stroke-width="0.5"/>
<text x="500.40" y="98.80" text-anchor="middle" font-family="Liberation Sans, sans-serif" font-size="3.3" fill="#3a3a3a">10</text>
<text x="502.30" y="96.90" font-family="Liberation Sans, sans-serif" font-size="2.5" fill="#3a3a3a">4</text>
<line x1="450.6" y1="55.2" x2="498.5" y2="55.2" stroke="#555" stroke-width="0.7"/>
<line x1="450.6" y1="53.900000000000006" x2="450.6" y2="56.5" stroke="#555" stroke-width="0.6"/>
<line x1="498.5" y1="53.900000000000006" x2="498.5" y2="56.5" stroke="#555" stroke-width="0.6"/>
<text x="466.5" y="49.7" font-family="Liberation Sans, sans-serif" font-size="3.4" fill="#3a3a3a">PE subset</text>
<text x="466.5" y="53.7" font-family="Liberation Sans, sans-serif" font-size="3.4" fill="#3a3a3a">98.22</text>
<text x="72.1" y="112.4" text-anchor="middle" font-family="Liberation Sans, sans-serif" font-weight="bold" font-size="8.5" fill="#111">Mino</text>
<path d="M38.00,183.30 L38.54,183.30 L39.07,183.30 L39.61,183.30 L40.15,183.30 L40.68,183.30 L41.22,183.30 L41.76,183.30 L42.29,183.30 L42.83,183.30 L43.37,183.29 L43.90,183.29 L44.44,183.29 L44.98,183.29 L45.51,183.28 L46.05,183.28 L46.59,183.27 L47.12,183.26 L47.66,183.26 L48.20,183.25 L48.73,183.23 L49.27,183.22 L49.81,183.20 L50.34,183.18 L50.88,183.15 L51.42,183.13 L51.95,183.09 L52.49,183.05 L53.03,183.01 L53.56,182.96 L54.10,182.90 L54.64,182.83 L55.17,182.75 L55.71,182.66 L56.25,182.55 L56.78,182.42 L57.32,182.24 L57.86,182.01 L58.39,181.69 L58.93,181.24 L59.47,180.62 L60.00,179.76 L60.54,178.58 L61.08,177.00 L61.61,174.91 L62.15,172.25 L62.69,168.94 L63.22,164.97 L63.76,160.37 L64.30,155.24 L64.83,149.75 L65.37,144.16 L65.91,138.77 L66.44,133.91 L66.98,129.92 L67.52,127.10 L68.05,125.66 L68.59,125.85 L69.13,128.25 L69.66,132.67 L70.20,138.59 L70.74,145.36 L71.27,152.34 L71.81,158.96 L72.35,164.82 L72.88,169.71 L73.42,173.56 L73.96,176.46 L74.49,178.54 L75.03,179.97 L75.57,180.94 L76.10,181.58 L76.64,182.00 L77.18,182.28 L77.71,182.49 L78.25,182.63 L78.79,182.75 L79.32,182.85 L79.86,182.93 L80.40,182.99 L80.93,183.05 L81.47,183.10 L82.01,183.14 L82.54,183.17 L83.08,183.20 L83.62,183.22 L84.15,183.24 L84.69,183.25 L85.23,183.26 L85.76,183.27 L86.30,183.28 L86.84,183.29 L87.37,183.29 L87.91,183.29 L88.45,183.29 L88.98,183.30 L89.52,183.30 L90.06,183.30 L90.59,183.30 L91.13,183.30 L91.67,183.30 L92.20,183.30 L92.74,183.30 L93.28,183.30 L93.81,183.30 L94.35,183.30 L94.89,183.30 L95.42,183.30 L95.96,183.30 L96.50,183.30 L97.03,183.30 L97.57,183.30 L98.11,183.30 L98.64,183.30 L99.18,183.30 L99.72,183.30 L100.25,183.30 L100.79,183.30 L101.33,183.30 L101.86,183.30 L102.40,183.30 L102.40,183.30 L38.00,183.30 Z" fill="#ececec" stroke="#b8b8b8" stroke-width="0.85"/>
<path d="M38.00,179.83 L38.54,178.52 L39.07,176.71 L39.61,174.26 L40.15,171.08 L40.68,167.09 L41.22,162.29 L41.76,156.77 L42.29,150.75 L42.83,144.54 L43.37,138.55 L43.90,133.23 L44.44,129.05 L44.98,126.39 L45.51,125.50 L46.05,126.29 L46.59,128.54 L47.12,132.05 L47.66,136.57 L48.20,141.77 L48.73,147.32 L49.27,152.88 L49.81,158.19 L50.34,163.04 L50.88,167.29 L51.42,170.89 L51.95,173.83 L52.49,176.16 L53.03,177.95 L53.56,179.29 L54.10,180.28 L54.64,181.00 L55.17,181.51 L55.71,181.88 L56.25,182.15 L56.78,182.35 L57.32,182.50 L57.86,182.62 L58.39,182.72 L58.93,182.80 L59.47,182.87 L60.00,182.93 L60.54,182.99 L61.08,183.03 L61.61,183.08 L62.15,183.11 L62.69,183.14 L63.22,183.17 L63.76,183.19 L64.30,183.21 L64.83,183.23 L65.37,183.24 L65.91,183.25 L66.44,183.26 L66.98,183.27 L67.52,183.28 L68.05,183.28 L68.59,183.28 L69.13,183.29 L69.66,183.29 L70.20,183.29 L70.74,183.29 L71.27,183.30 L71.81,183.30 L72.35,183.30 L72.88,183.30 L73.42,183.30 L73.96,183.30 L74.49,183.30 L75.03,183.30 L75.57,183.30 L76.10,183.30 L76.64,183.30 L77.18,183.30 L77.71,183.30 L78.25,183.30 L78.79,183.30 L79.32,183.30 L79.86,183.30 L80.40,183.30 L80.93,183.30 L81.47,183.30 L82.01,183.30 L82.54,183.30 L83.08,183.30 L83.62,183.30 L84.15,183.30 L84.69,183.30 L85.23,183.30 L85.76,183.30 L86.30,183.30 L86.84,183.30 L87.37,183.30 L87.91,183.30 L88.45,183.30 L88.98,183.30 L89.52,183.30 L90.06,183.30 L90.59,183.30 L91.13,183.30 L91.67,183.30 L92.20,183.30 L92.74,183.30 L93.28,183.30 L93.81,183.30 L94.35,183.30 L94.89,183.30 L95.42,183.30 L95.96,183.30 L96.50,183.30 L97.03,183.30 L97.57,183.30 L98.11,183.30 L98.64,183.30 L99.18,183.30 L99.72,183.30 L100.25,183.30 L100.79,183.30 L101.33,183.30 L101.86,183.30 L102.40,183.30" fill="none" stroke="#606060" stroke-width="0.85"/>
<path d="M37.5,118.2 L102.9,118.2" fill="none" stroke="#b4b4b4" stroke-width="1.1"/>
<path d="M102.9,118.2 L102.9,183.3" fill="none" stroke="#858585" stroke-width="1"/>
<path d="M37.5,118.2 L37.5,183.3 L102.9,183.3" fill="none" stroke="#555" stroke-width="1"/>
<line x1="35.9" y1="183.30" x2="37.5" y2="183.30" stroke="#666" stroke-width="0.5"/>
<line x1="36.6" y1="180.24" x2="37.5" y2="180.24" stroke="#666" stroke-width="0.5"/>
<line x1="36.6" y1="177.17" x2="37.5" y2="177.17" stroke="#666" stroke-width="0.5"/>
<line x1="36.6" y1="174.11" x2="37.5" y2="174.11" stroke="#666" stroke-width="0.5"/>
<line x1="35.9" y1="171.04" x2="37.5" y2="171.04" stroke="#666" stroke-width="0.5"/>
<text x="35.3" y="172.24" text-anchor="end" font-family="Liberation Sans, sans-serif" font-size="3.5" fill="#3a3a3a">20</text>
<line x1="36.6" y1="167.98" x2="37.5" y2="167.98" stroke="#666" stroke-width="0.5"/>
<line x1="36.6" y1="164.91" x2="37.5" y2="164.91" stroke="#666" stroke-width="0.5"/>
<line x1="36.6" y1="161.84" x2="37.5" y2="161.84" stroke="#666" stroke-width="0.5"/>
<line x1="35.9" y1="158.78" x2="37.5" y2="158.78" stroke="#666" stroke-width="0.5"/>
<text x="35.3" y="159.98" text-anchor="end" font-family="Liberation Sans, sans-serif" font-size="3.5" fill="#3a3a3a">40</text>
<line x1="36.6" y1="155.72" x2="37.5" y2="155.72" stroke="#666" stroke-width="0.5"/>
<line x1="36.6" y1="152.65" x2="37.5" y2="152.65" stroke="#666" stroke-width="0.5"/>
<line x1="36.6" y1="149.59" x2="37.5" y2="149.59" stroke="#666" stroke-width="0.5"/>
<line x1="35.9" y1="146.52" x2="37.5" y2="146.52" stroke="#666" stroke-width="0.5"/>
<text x="35.3" y="147.72" text-anchor="end" font-family="Liberation Sans, sans-serif" font-size="3.5" fill="#3a3a3a">60</text>
<line x1="36.6" y1="143.46" x2="37.5" y2="143.46" stroke="#666" stroke-width="0.5"/>
<line x1="36.6" y1="140.39" x2="37.5" y2="140.39" stroke="#666" stroke-width="0.5"/>
<line x1="36.6" y1="137.32" x2="37.5" y2="137.32" stroke="#666" stroke-width="0.5"/>
<line x1="35.9" y1="134.26" x2="37.5" y2="134.26" stroke="#666" stroke-width="0.5"/>
<text x="35.3" y="135.46" text-anchor="end" font-family="Liberation Sans, sans-serif" font-size="3.5" fill="#3a3a3a">80</text>
<line x1="36.6" y1="131.19" x2="37.5" y2="131.19" stroke="#666" stroke-width="0.5"/>
<line x1="36.6" y1="128.13" x2="37.5" y2="128.13" stroke="#666" stroke-width="0.5"/>
<line x1="36.6" y1="125.06" x2="37.5" y2="125.06" stroke="#666" stroke-width="0.5"/>
<line x1="35.9" y1="122.00" x2="37.5" y2="122.00" stroke="#666" stroke-width="0.5"/>
<text x="35.3" y="123.20" text-anchor="end" font-family="Liberation Sans, sans-serif" font-size="3.5" fill="#3a3a3a">100</text>
<line x1="37.50" y1="183.3" x2="37.50" y2="184.9" stroke="#666" stroke-width="0.5"/>
<text x="38.20" y="192.20" text-anchor="middle" font-family="Liberation Sans, sans-serif" font-size="3.3" fill="#3a3a3a">10</text>
<text x="40.10" y="190.30" font-family="Liberation Sans, sans-serif" font-size="2.5" fill="#3a3a3a">0</text>
<line x1="42.42" y1="183.3" x2="42.42" y2="184.20000000000002" stroke="#777" stroke-width="0.4"/>
<line x1="45.30" y1="183.3" x2="45.30" y2="184.20000000000002" stroke="#777" stroke-width="0.4"/>
<line x1="47.34" y1="183.3" x2="47.34" y2="184.20000000000002" stroke="#777" stroke-width="0.4"/>
<line x1="48.93" y1="183.3" x2="48.93" y2="184.20000000000002" stroke="#777" stroke-width="0.4"/>
<line x1="50.22" y1="183.3" x2="50.22" y2="184.20000000000002" stroke="#777" stroke-width="0.4"/>
<line x1="51.32" y1="183.3" x2="51.32" y2="184.20000000000002" stroke="#777" stroke-width="0.4"/>
<line x1="52.27" y1="183.3" x2="52.27" y2="184.20000000000002" stroke="#777" stroke-width="0.4"/>
<line x1="53.10" y1="183.3" x2="53.10" y2="184.20000000000002" stroke="#777" stroke-width="0.4"/>
<line x1="53.85" y1="183.3" x2="53.85" y2="184.9" stroke="#666" stroke-width="0.5"/>
<text x="54.55" y="192.20" text-anchor="middle" font-family="Liberation Sans, sans-serif" font-size="3.3" fill="#3a3a3a">10</text>
<text x="56.45" y="190.30" font-family="Liberation Sans, sans-serif" font-size="2.5" fill="#3a3a3a">1</text>
<line x1="58.77" y1="183.3" x2="58.77" y2="184.20000000000002" stroke="#777" stroke-width="0.4"/>
<line x1="61.65" y1="183.3" x2="61.65" y2="184.20000000000002" stroke="#777" stroke-width="0.4"/>
<line x1="63.69" y1="183.3" x2="63.69" y2="184.20000000000002" stroke="#777" stroke-width="0.4"/>
<line x1="65.28" y1="183.3" x2="65.28" y2="184.20000000000002" stroke="#777" stroke-width="0.4"/>
<line x1="66.57" y1="183.3" x2="66.57" y2="184.20000000000002" stroke="#777" stroke-width="0.4"/>
<line x1="67.67" y1="183.3" x2="67.67" y2="184.20000000000002" stroke="#777" stroke-width="0.4"/>
<line x1="68.62" y1="183.3" x2="68.62" y2="184.20000000000002" stroke="#777" stroke-width="0.4"/>
<line x1="69.45" y1="183.3" x2="69.45" y2="184.20000000000002" stroke="#777" stroke-width="0.4"/>
<line x1="70.20" y1="183.3" x2="70.20" y2="184.9" stroke="#666" stroke-width="0.5"/>
<text x="70.90" y="192.20" text-anchor="middle" font-family="Liberation Sans, sans-serif" font-size="3.3" fill="#3a3a3a">10</text>
<text x="72.80" y="190.30" font-family="Liberation Sans, sans-serif" font-size="2.5" fill="#3a3a3a">2</text>
<line x1="75.12" y1="183.3" x2="75.12" y2="184.20000000000002" stroke="#777" stroke-width="0.4"/>
<line x1="78.00" y1="183.3" x2="78.00" y2="184.20000000000002" stroke="#777" stroke-width="0.4"/>
<line x1="80.04" y1="183.3" x2="80.04" y2="184.20000000000002" stroke="#777" stroke-width="0.4"/>
<line x1="81.63" y1="183.3" x2="81.63" y2="184.20000000000002" stroke="#777" stroke-width="0.4"/>
<line x1="82.92" y1="183.3" x2="82.92" y2="184.20000000000002" stroke="#777" stroke-width="0.4"/>
<line x1="84.02" y1="183.3" x2="84.02" y2="184.20000000000002" stroke="#777" stroke-width="0.4"/>
<line x1="84.97" y1="183.3" x2="84.97" y2="184.20000000000002" stroke="#777" stroke-width="0.4"/>
<line x1="85.80" y1="183.3" x2="85.80" y2="184.20000000000002" stroke="#777" stroke-width="0.4"/>
<line x1="86.55" y1="183.3" x2="86.55" y2="184.9" stroke="#666" stroke-width="0.5"/>
<text x="87.25" y="192.20" text-anchor="middle" font-family="Liberation Sans, sans-serif" font-size="3.3" fill="#3a3a3a">10</text>
<text x="89.15" y="190.30" font-family="Liberation Sans, sans-serif" font-size="2.5" fill="#3a3a3a">3</text>
<line x1="91.47" y1="183.3" x2="91.47" y2="184.20000000000002" stroke="#777" stroke-width="0.4"/>
<line x1="94.35" y1="183.3" x2="94.35" y2="184.20000000000002" stroke="#777" stroke-width="0.4"/>
<line x1="96.39" y1="183.3" x2="96.39" y2="184.20000000000002" stroke="#777" stroke-width="0.4"/>
<line x1="97.98" y1="183.3" x2="97.98" y2="184.20000000000002" stroke="#777" stroke-width="0.4"/>
<line x1="99.27" y1="183.3" x2="99.27" y2="184.20000000000002" stroke="#777" stroke-width="0.4"/>
<line x1="100.37" y1="183.3" x2="100.37" y2="184.20000000000002" stroke="#777" stroke-width="0.4"/>
<line x1="101.32" y1="183.3" x2="101.32" y2="184.20000000000002" stroke="#777" stroke-width="0.4"/>
<line x1="102.15" y1="183.3" x2="102.15" y2="184.20000000000002" stroke="#777" stroke-width="0.4"/>
<line x1="102.90" y1="183.3" x2="102.90" y2="184.9" stroke="#666" stroke-width="0.5"/>
<text x="103.60" y="192.20" text-anchor="middle" font-family="Liberation Sans, sans-serif" font-size="3.3" fill="#3a3a3a">10</text>
<text x="105.50" y="190.30" font-family="Liberation Sans, sans-serif" font-size="2.5" fill="#3a3a3a">4</text>
<line x1="54.6" y1="159.2" x2="100.7" y2="159.2" stroke="#555" stroke-width="0.7"/>
<line x1="54.6" y1="157.89999999999998" x2="54.6" y2="160.5" stroke="#555" stroke-width="0.6"/>
<line x1="100.7" y1="157.89999999999998" x2="100.7" y2="160.5" stroke="#555" stroke-width="0.6"/>
<text x="76.5" y="152.79999999999998" font-family="Liberation Sans, sans-serif" font-size="3.4" fill="#3a3a3a">PE subset</text>
<text x="76.5" y="156.79999999999998" font-family="Liberation Sans, sans-serif" font-size="3.4" fill="#3a3a3a">99.39</text>
<line x1="105.2" y1="118.2" x2="105.2" y2="133.2" stroke="#c8c8c8" stroke-width="0.8"/>
<text x="150.5" y="113.4" text-anchor="middle" font-family="Liberation Sans, sans-serif" font-weight="bold" font-size="8.5" fill="#111">SP-53</text>
<path d="M116.90,182.70 L117.43,182.70 L117.95,182.70 L118.48,182.69 L119.01,182.69 L119.53,182.69 L120.06,182.69 L120.59,182.68 L121.11,182.68 L121.64,182.67 L122.17,182.66 L122.69,182.64 L123.22,182.63 L123.75,182.61 L124.27,182.58 L124.80,182.55 L125.33,182.52 L125.85,182.47 L126.38,182.42 L126.91,182.36 L127.43,182.29 L127.96,182.20 L128.49,182.10 L129.01,181.97 L129.54,181.81 L130.07,181.58 L130.59,181.25 L131.12,180.76 L131.65,180.03 L132.17,178.93 L132.70,177.33 L133.23,175.05 L133.75,171.94 L134.28,167.89 L134.81,162.85 L135.33,156.92 L135.86,150.36 L136.39,143.58 L136.91,137.13 L137.44,131.62 L137.97,127.66 L138.49,125.67 L139.02,125.92 L139.55,128.35 L140.07,132.70 L140.60,138.46 L141.13,145.03 L141.65,151.81 L142.18,158.26 L142.71,164.01 L143.23,168.84 L143.76,172.69 L144.29,175.60 L144.81,177.72 L145.34,179.21 L145.87,180.21 L146.39,180.88 L146.92,181.33 L147.45,181.63 L147.97,181.85 L148.50,182.00 L149.03,182.13 L149.55,182.22 L150.08,182.31 L150.61,182.38 L151.13,182.43 L151.66,182.48 L152.19,182.53 L152.71,182.56 L153.24,182.59 L153.77,182.61 L154.29,182.63 L154.82,182.65 L155.35,182.66 L155.87,182.67 L156.40,182.68 L156.93,182.68 L157.45,182.69 L157.98,182.69 L158.51,182.69 L159.03,182.70 L159.56,182.70 L160.09,182.70 L160.61,182.70 L161.14,182.70 L161.67,182.70 L162.19,182.70 L162.72,182.70 L163.25,182.70 L163.77,182.70 L164.30,182.70 L164.83,182.70 L165.35,182.70 L165.88,182.70 L166.41,182.70 L166.93,182.70 L167.46,182.70 L167.99,182.70 L168.51,182.70 L169.04,182.70 L169.57,182.70 L170.09,182.70 L170.62,182.70 L171.15,182.70 L171.67,182.70 L172.20,182.70 L172.73,182.70 L173.25,182.70 L173.78,182.70 L174.31,182.70 L174.83,182.70 L175.36,182.70 L175.89,182.70 L176.41,182.70 L176.94,182.70 L177.47,182.70 L177.99,182.70 L178.52,182.70 L179.05,182.70 L179.57,182.70 L180.10,182.70 L180.10,182.70 L116.90,182.70 Z" fill="#ececec" stroke="#808080" stroke-width="0.85"/>
<path d="M116.90,179.39 L117.43,178.05 L117.95,176.16 L118.48,173.57 L119.01,170.15 L119.53,165.82 L120.06,160.61 L120.59,154.66 L121.11,148.24 L121.64,141.76 L122.17,135.74 L122.69,130.72 L123.22,127.22 L123.75,125.59 L124.27,125.89 L124.80,127.72 L125.33,130.92 L125.85,135.22 L126.38,140.30 L126.91,145.82 L127.43,151.43 L127.96,156.84 L128.49,161.81 L129.01,166.20 L129.54,169.92 L130.07,172.96 L130.59,175.38 L131.12,177.24 L131.65,178.63 L132.17,179.65 L132.70,180.39 L133.23,180.91 L133.75,181.29 L134.28,181.56 L134.81,181.76 L135.33,181.91 L135.86,182.03 L136.39,182.13 L136.91,182.21 L137.44,182.28 L137.97,182.34 L138.49,182.40 L139.02,182.44 L139.55,182.48 L140.07,182.52 L140.60,182.55 L141.13,182.57 L141.65,182.60 L142.18,182.62 L142.71,182.63 L143.23,182.64 L143.76,182.66 L144.29,182.66 L144.81,182.67 L145.34,182.68 L145.87,182.68 L146.39,182.69 L146.92,182.69 L147.45,182.69 L147.97,182.69 L148.50,182.70 L149.03,182.70 L149.55,182.70 L150.08,182.70 L150.61,182.70 L151.13,182.70 L151.66,182.70 L152.19,182.70 L152.71,182.70 L153.24,182.70 L153.77,182.70 L154.29,182.70 L154.82,182.70 L155.35,182.70 L155.87,182.70 L156.40,182.70 L156.93,182.70 L157.45,182.70 L157.98,182.70 L158.51,182.70 L159.03,182.70 L159.56,182.70 L160.09,182.70 L160.61,182.70 L161.14,182.70 L161.67,182.70 L162.19,182.70 L162.72,182.70 L163.25,182.70 L163.77,182.70 L164.30,182.70 L164.83,182.70 L165.35,182.70 L165.88,182.70 L166.41,182.70 L166.93,182.70 L167.46,182.70 L167.99,182.70 L168.51,182.70 L169.04,182.70 L169.57,182.70 L170.09,182.70 L170.62,182.70 L171.15,182.70 L171.67,182.70 L172.20,182.70 L172.73,182.70 L173.25,182.70 L173.78,182.70 L174.31,182.70 L174.83,182.70 L175.36,182.70 L175.89,182.70 L176.41,182.70 L176.94,182.70 L177.47,182.70 L177.99,182.70 L178.52,182.70 L179.05,182.70 L179.57,182.70 L180.10,182.70" fill="none" stroke="#606060" stroke-width="0.85"/>
<path d="M116.4,119.1 L180.6,119.1" fill="none" stroke="#b4b4b4" stroke-width="1.1"/>
<path d="M180.6,119.1 L180.6,182.7" fill="none" stroke="#858585" stroke-width="1"/>
<path d="M116.4,119.1 L116.4,182.7 L180.6,182.7" fill="none" stroke="#555" stroke-width="1"/>
<line x1="114.80000000000001" y1="182.70" x2="116.4" y2="182.70" stroke="#666" stroke-width="0.5"/>
<line x1="115.5" y1="179.71" x2="116.4" y2="179.71" stroke="#666" stroke-width="0.5"/>
<line x1="115.5" y1="176.72" x2="116.4" y2="176.72" stroke="#666" stroke-width="0.5"/>
<line x1="115.5" y1="173.73" x2="116.4" y2="173.73" stroke="#666" stroke-width="0.5"/>
<line x1="114.80000000000001" y1="170.74" x2="116.4" y2="170.74" stroke="#666" stroke-width="0.5"/>
<text x="114.2" y="171.94" text-anchor="end" font-family="Liberation Sans, sans-serif" font-size="3.5" fill="#3a3a3a">20</text>
<line x1="115.5" y1="167.75" x2="116.4" y2="167.75" stroke="#666" stroke-width="0.5"/>
<line x1="115.5" y1="164.76" x2="116.4" y2="164.76" stroke="#666" stroke-width="0.5"/>
<line x1="115.5" y1="161.77" x2="116.4" y2="161.77" stroke="#666" stroke-width="0.5"/>
<line x1="114.80000000000001" y1="158.78" x2="116.4" y2="158.78" stroke="#666" stroke-width="0.5"/>
<text x="114.2" y="159.98" text-anchor="end" font-family="Liberation Sans, sans-serif" font-size="3.5" fill="#3a3a3a">40</text>
<line x1="115.5" y1="155.79" x2="116.4" y2="155.79" stroke="#666" stroke-width="0.5"/>
<line x1="115.5" y1="152.80" x2="116.4" y2="152.80" stroke="#666" stroke-width="0.5"/>
<line x1="115.5" y1="149.81" x2="116.4" y2="149.81" stroke="#666" stroke-width="0.5"/>
<line x1="114.80000000000001" y1="146.82" x2="116.4" y2="146.82" stroke="#666" stroke-width="0.5"/>
<text x="114.2" y="148.02" text-anchor="end" font-family="Liberation Sans, sans-serif" font-size="3.5" fill="#3a3a3a">60</text>
<line x1="115.5" y1="143.83" x2="116.4" y2="143.83" stroke="#666" stroke-width="0.5"/>
<line x1="115.5" y1="140.84" x2="116.4" y2="140.84" stroke="#666" stroke-width="0.5"/>
<line x1="115.5" y1="137.85" x2="116.4" y2="137.85" stroke="#666" stroke-width="0.5"/>
<line x1="114.80000000000001" y1="134.86" x2="116.4" y2="134.86" stroke="#666" stroke-width="0.5"/>
<text x="114.2" y="136.06" text-anchor="end" font-family="Liberation Sans, sans-serif" font-size="3.5" fill="#3a3a3a">80</text>
<line x1="115.5" y1="131.87" x2="116.4" y2="131.87" stroke="#666" stroke-width="0.5"/>
<line x1="115.5" y1="128.88" x2="116.4" y2="128.88" stroke="#666" stroke-width="0.5"/>
<line x1="115.5" y1="125.89" x2="116.4" y2="125.89" stroke="#666" stroke-width="0.5"/>
<line x1="114.80000000000001" y1="122.90" x2="116.4" y2="122.90" stroke="#666" stroke-width="0.5"/>
<text x="114.2" y="124.10" text-anchor="end" font-family="Liberation Sans, sans-serif" font-size="3.5" fill="#3a3a3a">100</text>
<line x1="116.40" y1="182.7" x2="116.40" y2="184.29999999999998" stroke="#666" stroke-width="0.5"/>
<text x="117.10" y="191.60" text-anchor="middle" font-family="Liberation Sans, sans-serif" font-size="3.3" fill="#3a3a3a">10</text>
<text x="119.00" y="189.70" font-family="Liberation Sans, sans-serif" font-size="2.5" fill="#3a3a3a">0</text>
<line x1="121.23" y1="182.7" x2="121.23" y2="183.6" stroke="#777" stroke-width="0.4"/>
<line x1="124.06" y1="182.7" x2="124.06" y2="183.6" stroke="#777" stroke-width="0.4"/>
<line x1="126.06" y1="182.7" x2="126.06" y2="183.6" stroke="#777" stroke-width="0.4"/>
<line x1="127.62" y1="182.7" x2="127.62" y2="183.6" stroke="#777" stroke-width="0.4"/>
<line x1="128.89" y1="182.7" x2="128.89" y2="183.6" stroke="#777" stroke-width="0.4"/>
<line x1="129.96" y1="182.7" x2="129.96" y2="183.6" stroke="#777" stroke-width="0.4"/>
<line x1="130.89" y1="182.7" x2="130.89" y2="183.6" stroke="#777" stroke-width="0.4"/>
<line x1="131.72" y1="182.7" x2="131.72" y2="183.6" stroke="#777" stroke-width="0.4"/>
<line x1="132.45" y1="182.7" x2="132.45" y2="184.29999999999998" stroke="#666" stroke-width="0.5"/>
<text x="133.15" y="191.60" text-anchor="middle" font-family="Liberation Sans, sans-serif" font-size="3.3" fill="#3a3a3a">10</text>
<text x="135.05" y="189.70" font-family="Liberation Sans, sans-serif" font-size="2.5" fill="#3a3a3a">1</text>
<line x1="137.28" y1="182.7" x2="137.28" y2="183.6" stroke="#777" stroke-width="0.4"/>
<line x1="140.11" y1="182.7" x2="140.11" y2="183.6" stroke="#777" stroke-width="0.4"/>
<line x1="142.11" y1="182.7" x2="142.11" y2="183.6" stroke="#777" stroke-width="0.4"/>
<line x1="143.67" y1="182.7" x2="143.67" y2="183.6" stroke="#777" stroke-width="0.4"/>
<line x1="144.94" y1="182.7" x2="144.94" y2="183.6" stroke="#777" stroke-width="0.4"/>
<line x1="146.01" y1="182.7" x2="146.01" y2="183.6" stroke="#777" stroke-width="0.4"/>
<line x1="146.94" y1="182.7" x2="146.94" y2="183.6" stroke="#777" stroke-width="0.4"/>
<line x1="147.77" y1="182.7" x2="147.77" y2="183.6" stroke="#777" stroke-width="0.4"/>
<line x1="148.50" y1="182.7" x2="148.50" y2="184.29999999999998" stroke="#666" stroke-width="0.5"/>
<text x="149.20" y="191.60" text-anchor="middle" font-family="Liberation Sans, sans-serif" font-size="3.3" fill="#3a3a3a">10</text>
<text x="151.10" y="189.70" font-family="Liberation Sans, sans-serif" font-size="2.5" fill="#3a3a3a">2</text>
<line x1="153.33" y1="182.7" x2="153.33" y2="183.6" stroke="#777" stroke-width="0.4"/>
<line x1="156.16" y1="182.7" x2="156.16" y2="183.6" stroke="#777" stroke-width="0.4"/>
<line x1="158.16" y1="182.7" x2="158.16" y2="183.6" stroke="#777" stroke-width="0.4"/>
<line x1="159.72" y1="182.7" x2="159.72" y2="183.6" stroke="#777" stroke-width="0.4"/>
<line x1="160.99" y1="182.7" x2="160.99" y2="183.6" stroke="#777" stroke-width="0.4"/>
<line x1="162.06" y1="182.7" x2="162.06" y2="183.6" stroke="#777" stroke-width="0.4"/>
<line x1="162.99" y1="182.7" x2="162.99" y2="183.6" stroke="#777" stroke-width="0.4"/>
<line x1="163.82" y1="182.7" x2="163.82" y2="183.6" stroke="#777" stroke-width="0.4"/>
<line x1="164.55" y1="182.7" x2="164.55" y2="184.29999999999998" stroke="#666" stroke-width="0.5"/>
<text x="165.25" y="191.60" text-anchor="middle" font-family="Liberation Sans, sans-serif" font-size="3.3" fill="#3a3a3a">10</text>
<text x="167.15" y="189.70" font-family="Liberation Sans, sans-serif" font-size="2.5" fill="#3a3a3a">3</text>
<line x1="169.38" y1="182.7" x2="169.38" y2="183.6" stroke="#777" stroke-width="0.4"/>
<line x1="172.21" y1="182.7" x2="172.21" y2="183.6" stroke="#777" stroke-width="0.4"/>
<line x1="174.21" y1="182.7" x2="174.21" y2="183.6" stroke="#777" stroke-width="0.4"/>
<line x1="175.77" y1="182.7" x2="175.77" y2="183.6" stroke="#777" stroke-width="0.4"/>
<line x1="177.04" y1="182.7" x2="177.04" y2="183.6" stroke="#777" stroke-width="0.4"/>
<line x1="178.11" y1="182.7" x2="178.11" y2="183.6" stroke="#777" stroke-width="0.4"/>
<line x1="179.04" y1="182.7" x2="179.04" y2="183.6" stroke="#777" stroke-width="0.4"/>
<line x1="179.87" y1="182.7" x2="179.87" y2="183.6" stroke="#777" stroke-width="0.4"/>
<line x1="180.60" y1="182.7" x2="180.60" y2="184.29999999999998" stroke="#666" stroke-width="0.5"/>
<text x="181.30" y="191.60" text-anchor="middle" font-family="Liberation Sans, sans-serif" font-size="3.3" fill="#3a3a3a">10</text>
<text x="183.20" y="189.70" font-family="Liberation Sans, sans-serif" font-size="2.5" fill="#3a3a3a">4</text>
<line x1="129.2" y1="151.2" x2="180.0" y2="151.2" stroke="#555" stroke-width="0.7"/>
<line x1="129.2" y1="149.89999999999998" x2="129.2" y2="152.5" stroke="#555" stroke-width="0.6"/>
<line x1="180.0" y1="149.89999999999998" x2="180.0" y2="152.5" stroke="#555" stroke-width="0.6"/>
<text x="146.9" y="144.79999999999998" font-family="Liberation Sans, sans-serif" font-size="3.4" fill="#3a3a3a">PE subset</text>
<text x="146.9" y="148.79999999999998" font-family="Liberation Sans, sans-serif" font-size="3.4" fill="#3a3a3a">99.46</text>
<text x="0.7" y="220" font-family="Liberation Sans, sans-serif" font-weight="bold" font-size="11" fill="#111">B</text>
<line x1="22.8" y1="233.6" x2="22.8" y2="321.0" stroke="#8a8a8a" stroke-width="0.9"/>
<line x1="21.0" y1="321.00" x2="22.8" y2="321.00" stroke="#8a8a8a" stroke-width="0.8"/>
<text x="19.9" y="323.20" text-anchor="end" font-family="Liberation Sans, sans-serif" font-weight="bold" font-size="6.0" fill="#1e1e1e">0</text>
<line x1="21.0" y1="303.72" x2="22.8" y2="303.72" stroke="#8a8a8a" stroke-width="0.8"/>
<text x="19.9" y="305.92" text-anchor="end" font-family="Liberation Sans, sans-serif" font-weight="bold" font-size="6.0" fill="#1e1e1e">20</text>
<line x1="21.0" y1="286.44" x2="22.8" y2="286.44" stroke="#8a8a8a" stroke-width="0.8"/>
<text x="19.9" y="288.64" text-anchor="end" font-family="Liberation Sans, sans-serif" font-weight="bold" font-size="6.0" fill="#1e1e1e">40</text>
<line x1="21.0" y1="269.16" x2="22.8" y2="269.16" stroke="#8a8a8a" stroke-width="0.8"/>
<text x="19.9" y="271.36" text-anchor="end" font-family="Liberation Sans, sans-serif" font-weight="bold" font-size="6.0" fill="#1e1e1e">60</text>
<line x1="21.0" y1="251.88" x2="22.8" y2="251.88" stroke="#8a8a8a" stroke-width="0.8"/>
<text x="19.9" y="254.08" text-anchor="end" font-family="Liberation Sans, sans-serif" font-weight="bold" font-size="6.0" fill="#1e1e1e">80</text>
<line x1="21.0" y1="234.60" x2="22.8" y2="234.60" stroke="#8a8a8a" stroke-width="0.8"/>
<text x="19.9" y="236.80" text-anchor="end" font-family="Liberation Sans, sans-serif" font-weight="bold" font-size="6.0" fill="#1e1e1e">100</text>
<line x1="23.2" y1="321.0" x2="153" y2="321.0" stroke="#8a8a8a" stroke-width="0.9"/>
<text transform="translate(7.6,278) rotate(-90)" text-anchor="middle" font-family="Liberation Sans, sans-serif" font-weight="bold" font-size="6.4" textLength="75" lengthAdjust="spacingAndGlyphs" fill="#1a1a1a">Percentage of dead cells</text>
<rect x="25.10" y="317.08" width="2.00" height="3.92" fill="#c80a0a" stroke="#6a0000" stroke-width="0.8"/>
<line x1="26.10" y1="315.82" x2="26.10" y2="316.68" stroke="#333" stroke-width="0.5"/>
<line x1="25.40" y1="315.82" x2="26.90" y2="315.82" stroke="#333" stroke-width="0.5"/>
<rect x="28.85" y="314.49" width="2.00" height="6.51" fill="#0000e0" stroke="#00007a" stroke-width="0.8"/>
<line x1="29.85" y1="313.22" x2="29.85" y2="314.09" stroke="#333" stroke-width="0.5"/>
<line x1="29.15" y1="313.22" x2="30.65" y2="313.22" stroke="#333" stroke-width="0.5"/>
<rect x="32.60" y="312.33" width="2.00" height="8.67" fill="#0a0a0a" stroke="#0a0a0a" stroke-width="0.8"/>
<line x1="33.60" y1="311.06" x2="33.60" y2="311.93" stroke="#333" stroke-width="0.5"/>
<line x1="32.90" y1="311.06" x2="34.40" y2="311.06" stroke="#333" stroke-width="0.5"/>
<line x1="30.00" y1="321.0" x2="30.00" y2="322.8" stroke="#8a8a8a" stroke-width="0.7"/>
<text transform="translate(31.30,329.60) rotate(-43)" text-anchor="end" font-family="Liberation Sans, sans-serif" font-weight="bold" font-size="6.0" fill="#1a1a1a">293T</text>
<rect x="38.20" y="315.35" width="2.00" height="5.65" fill="#c80a0a" stroke="#6a0000" stroke-width="0.8"/>
<line x1="39.20" y1="313.22" x2="39.20" y2="314.95" stroke="#333" stroke-width="0.5"/>
<line x1="38.50" y1="313.22" x2="40.00" y2="313.22" stroke="#333" stroke-width="0.5"/>
<rect x="41.95" y="240.18" width="2.00" height="80.82" fill="#0000e0" stroke="#00007a" stroke-width="0.8"/>
<line x1="42.95" y1="237.19" x2="42.95" y2="239.78" stroke="#333" stroke-width="0.5"/>
<line x1="42.25" y1="237.19" x2="43.75" y2="237.19" stroke="#333" stroke-width="0.5"/>
<rect x="45.70" y="239.32" width="2.00" height="81.68" fill="#0a0a0a" stroke="#0a0a0a" stroke-width="0.8"/>
<line x1="46.70" y1="237.19" x2="46.70" y2="238.92" stroke="#333" stroke-width="0.5"/>
<line x1="46.00" y1="237.19" x2="47.50" y2="237.19" stroke="#333" stroke-width="0.5"/>
<line x1="43.10" y1="321.0" x2="43.10" y2="322.8" stroke="#8a8a8a" stroke-width="0.7"/>
<text transform="translate(44.40,329.60) rotate(-43)" text-anchor="end" font-family="Liberation Sans, sans-serif" font-weight="bold" font-size="6.0" fill="#1a1a1a">RCK8</text>
<rect x="51.30" y="313.62" width="2.00" height="7.38" fill="#c80a0a" stroke="#6a0000" stroke-width="0.8"/>
<line x1="52.30" y1="311.50" x2="52.30" y2="313.22" stroke="#333" stroke-width="0.5"/>
<line x1="51.60" y1="311.50" x2="53.10" y2="311.50" stroke="#333" stroke-width="0.5"/>
<rect x="55.05" y="267.83" width="2.00" height="53.17" fill="#0000e0" stroke="#00007a" stroke-width="0.8"/>
<line x1="56.05" y1="264.84" x2="56.05" y2="267.43" stroke="#333" stroke-width="0.5"/>
<line x1="55.35" y1="264.84" x2="56.85" y2="264.84" stroke="#333" stroke-width="0.5"/>
<rect x="58.80" y="250.55" width="2.00" height="70.45" fill="#0a0a0a" stroke="#0a0a0a" stroke-width="0.8"/>
<line x1="59.80" y1="247.56" x2="59.80" y2="250.15" stroke="#333" stroke-width="0.5"/>
<line x1="59.10" y1="247.56" x2="60.60" y2="247.56" stroke="#333" stroke-width="0.5"/>
<line x1="56.20" y1="321.0" x2="56.20" y2="322.8" stroke="#8a8a8a" stroke-width="0.7"/>
<text transform="translate(57.50,329.60) rotate(-43)" text-anchor="end" font-family="Liberation Sans, sans-serif" font-weight="bold" font-size="6.0" fill="#1a1a1a">Mino</text>
<rect x="64.40" y="309.30" width="2.00" height="11.70" fill="#c80a0a" stroke="#6a0000" stroke-width="0.8"/>
<line x1="65.40" y1="308.04" x2="65.40" y2="308.90" stroke="#333" stroke-width="0.5"/>
<line x1="64.70" y1="308.04" x2="66.20" y2="308.04" stroke="#333" stroke-width="0.5"/>
<rect x="68.15" y="285.98" width="2.00" height="35.02" fill="#0000e0" stroke="#00007a" stroke-width="0.8"/>
<line x1="69.15" y1="282.12" x2="69.15" y2="285.58" stroke="#333" stroke-width="0.5"/>
<line x1="68.45" y1="282.12" x2="69.95" y2="282.12" stroke="#333" stroke-width="0.5"/>
<rect x="71.90" y="266.97" width="2.00" height="54.03" fill="#0a0a0a" stroke="#0a0a0a" stroke-width="0.8"/>
<line x1="72.90" y1="263.98" x2="72.90" y2="266.57" stroke="#333" stroke-width="0.5"/>
<line x1="72.20" y1="263.98" x2="73.70" y2="263.98" stroke="#333" stroke-width="0.5"/>
<line x1="69.30" y1="321.0" x2="69.30" y2="322.8" stroke="#8a8a8a" stroke-width="0.7"/>
<text transform="translate(70.60,329.60) rotate(-43)" text-anchor="end" font-family="Liberation Sans, sans-serif" font-weight="bold" font-size="6.0" fill="#1a1a1a">HBL2</text>
<rect x="77.50" y="310.17" width="2.00" height="10.83" fill="#c80a0a" stroke="#6a0000" stroke-width="0.8"/>
<line x1="78.50" y1="308.90" x2="78.50" y2="309.77" stroke="#333" stroke-width="0.5"/>
<line x1="77.80" y1="308.90" x2="79.30" y2="308.90" stroke="#333" stroke-width="0.5"/>
<rect x="81.25" y="304.98" width="2.00" height="16.02" fill="#0000e0" stroke="#00007a" stroke-width="0.8"/>
<line x1="82.25" y1="303.72" x2="82.25" y2="304.58" stroke="#333" stroke-width="0.5"/>
<line x1="81.55" y1="303.72" x2="83.05" y2="303.72" stroke="#333" stroke-width="0.5"/>
<rect x="85.00" y="274.74" width="2.00" height="46.26" fill="#0a0a0a" stroke="#0a0a0a" stroke-width="0.8"/>
<line x1="86.00" y1="273.48" x2="86.00" y2="274.34" stroke="#333" stroke-width="0.5"/>
<line x1="85.30" y1="273.48" x2="86.80" y2="273.48" stroke="#333" stroke-width="0.5"/>
<line x1="82.40" y1="321.0" x2="82.40" y2="322.8" stroke="#8a8a8a" stroke-width="0.7"/>
<text transform="translate(83.70,329.60) rotate(-43)" text-anchor="end" font-family="Liberation Sans, sans-serif" font-weight="bold" font-size="6.0" fill="#1a1a1a">SP53</text>
<rect x="90.60" y="306.28" width="2.00" height="14.72" fill="#c80a0a" stroke="#6a0000" stroke-width="0.8"/>
<line x1="91.60" y1="305.02" x2="91.60" y2="305.88" stroke="#333" stroke-width="0.5"/>
<line x1="90.90" y1="305.02" x2="92.40" y2="305.02" stroke="#333" stroke-width="0.5"/>
<rect x="94.35" y="301.53" width="2.00" height="19.47" fill="#0000e0" stroke="#00007a" stroke-width="0.8"/>
<line x1="95.35" y1="299.40" x2="95.35" y2="301.13" stroke="#333" stroke-width="0.5"/>
<line x1="94.65" y1="299.40" x2="96.15" y2="299.40" stroke="#333" stroke-width="0.5"/>
<rect x="98.10" y="293.75" width="2.00" height="27.25" fill="#0a0a0a" stroke="#0a0a0a" stroke-width="0.8"/>
<line x1="99.10" y1="292.49" x2="99.10" y2="293.35" stroke="#333" stroke-width="0.5"/>
<line x1="98.40" y1="292.49" x2="99.90" y2="292.49" stroke="#333" stroke-width="0.5"/>
<line x1="95.50" y1="321.0" x2="95.50" y2="322.8" stroke="#8a8a8a" stroke-width="0.7"/>
<text transform="translate(96.80,329.60) rotate(-43)" text-anchor="end" font-family="Liberation Sans, sans-serif" font-weight="bold" font-size="6.0" fill="#1a1a1a">Jeko-1</text>
<rect x="103.70" y="306.71" width="2.00" height="14.29" fill="#c80a0a" stroke="#6a0000" stroke-width="0.8"/>
<line x1="104.70" y1="305.45" x2="104.70" y2="306.31" stroke="#333" stroke-width="0.5"/>
<line x1="104.00" y1="305.45" x2="105.50" y2="305.45" stroke="#333" stroke-width="0.5"/>
<rect x="107.45" y="304.55" width="2.00" height="16.45" fill="#0000e0" stroke="#00007a" stroke-width="0.8"/>
<line x1="108.45" y1="303.29" x2="108.45" y2="304.15" stroke="#333" stroke-width="0.5"/>
<line x1="107.75" y1="303.29" x2="109.25" y2="303.29" stroke="#333" stroke-width="0.5"/>
<rect x="111.20" y="301.53" width="2.00" height="19.47" fill="#0a0a0a" stroke="#0a0a0a" stroke-width="0.8"/>
<line x1="112.20" y1="300.26" x2="112.20" y2="301.13" stroke="#333" stroke-width="0.5"/>
<line x1="111.50" y1="300.26" x2="113.00" y2="300.26" stroke="#333" stroke-width="0.5"/>
<line x1="108.60" y1="321.0" x2="108.60" y2="322.8" stroke="#8a8a8a" stroke-width="0.7"/>
<text transform="translate(109.90,329.60) rotate(-43)" text-anchor="end" font-family="Liberation Sans, sans-serif" font-weight="bold" font-size="6.0" fill="#1a1a1a">G-519</text>
<rect x="116.80" y="304.98" width="2.00" height="16.02" fill="#c80a0a" stroke="#6a0000" stroke-width="0.8"/>
<line x1="117.80" y1="303.72" x2="117.80" y2="304.58" stroke="#333" stroke-width="0.5"/>
<line x1="117.10" y1="303.72" x2="118.60" y2="303.72" stroke="#333" stroke-width="0.5"/>
<rect x="120.55" y="304.12" width="2.00" height="16.88" fill="#0000e0" stroke="#00007a" stroke-width="0.8"/>
<line x1="121.55" y1="302.86" x2="121.55" y2="303.72" stroke="#333" stroke-width="0.5"/>
<line x1="120.85" y1="302.86" x2="122.35" y2="302.86" stroke="#333" stroke-width="0.5"/>
<rect x="124.30" y="302.39" width="2.00" height="18.61" fill="#0a0a0a" stroke="#0a0a0a" stroke-width="0.8"/>
<line x1="125.30" y1="300.26" x2="125.30" y2="301.99" stroke="#333" stroke-width="0.5"/>
<line x1="124.60" y1="300.26" x2="126.10" y2="300.26" stroke="#333" stroke-width="0.5"/>
<line x1="121.70" y1="321.0" x2="121.70" y2="322.8" stroke="#8a8a8a" stroke-width="0.7"/>
<text transform="translate(123.00,329.60) rotate(-43)" text-anchor="end" font-family="Liberation Sans, sans-serif" font-weight="bold" font-size="6.0" fill="#1a1a1a">L-128</text>
<rect x="129.90" y="313.62" width="2.00" height="7.38" fill="#c80a0a" stroke="#6a0000" stroke-width="0.8"/>
<line x1="130.90" y1="312.36" x2="130.90" y2="313.22" stroke="#333" stroke-width="0.5"/>
<line x1="130.20" y1="312.36" x2="131.70" y2="312.36" stroke="#333" stroke-width="0.5"/>
<rect x="133.65" y="311.90" width="2.00" height="9.10" fill="#0000e0" stroke="#00007a" stroke-width="0.8"/>
<line x1="134.65" y1="310.63" x2="134.65" y2="311.50" stroke="#333" stroke-width="0.5"/>
<line x1="133.95" y1="310.63" x2="135.45" y2="310.63" stroke="#333" stroke-width="0.5"/>
<rect x="137.40" y="310.17" width="2.00" height="10.83" fill="#0a0a0a" stroke="#0a0a0a" stroke-width="0.8"/>
<line x1="138.40" y1="308.90" x2="138.40" y2="309.77" stroke="#333" stroke-width="0.5"/>
<line x1="137.70" y1="308.90" x2="139.20" y2="308.90" stroke="#333" stroke-width="0.5"/>
<line x1="134.80" y1="321.0" x2="134.80" y2="322.8" stroke="#8a8a8a" stroke-width="0.7"/>
<text transform="translate(136.10,329.60) rotate(-43)" text-anchor="end" font-family="Liberation Sans, sans-serif" font-weight="bold" font-size="6.0" fill="#1a1a1a">Z138</text>
<rect x="143.00" y="310.17" width="2.00" height="10.83" fill="#c80a0a" stroke="#6a0000" stroke-width="0.8"/>
<line x1="144.00" y1="308.90" x2="144.00" y2="309.77" stroke="#333" stroke-width="0.5"/>
<line x1="143.30" y1="308.90" x2="144.80" y2="308.90" stroke="#333" stroke-width="0.5"/>
<rect x="146.75" y="308.44" width="2.00" height="12.56" fill="#0000e0" stroke="#00007a" stroke-width="0.8"/>
<line x1="147.75" y1="307.18" x2="147.75" y2="308.04" stroke="#333" stroke-width="0.5"/>
<line x1="147.05" y1="307.18" x2="148.55" y2="307.18" stroke="#333" stroke-width="0.5"/>
<rect x="150.50" y="307.58" width="2.00" height="13.42" fill="#0a0a0a" stroke="#0a0a0a" stroke-width="0.8"/>
<line x1="151.50" y1="306.31" x2="151.50" y2="307.18" stroke="#333" stroke-width="0.5"/>
<line x1="150.80" y1="306.31" x2="152.30" y2="306.31" stroke="#333" stroke-width="0.5"/>
<line x1="147.90" y1="321.0" x2="147.90" y2="322.8" stroke="#8a8a8a" stroke-width="0.7"/>
<text transform="translate(149.20,329.60) rotate(-43)" text-anchor="end" font-family="Liberation Sans, sans-serif" font-weight="bold" font-size="6.0" fill="#1a1a1a">IRM2</text>
<rect x="118.5" y="238.4" width="9.8" height="4.3" fill="#e00000" stroke="#8a0000" stroke-width="0.9"/>
<text x="133.5" y="243.0" font-family="Liberation Sans, sans-serif" font-size="7.2" fill="#2a2a2a">Control</text>
<rect x="118.5" y="248.3" width="9.8" height="4.3" fill="#0000ea" stroke="#000095" stroke-width="0.9"/>
<text x="133.5" y="252.9" font-family="Liberation Sans, sans-serif" font-size="7.2" fill="#2a2a2a">IL-21 (72hr)</text>
<rect x="118.5" y="258.2" width="9.8" height="4.3" fill="#0a0a0a" stroke="#0a0a0a" stroke-width="0.9"/>
<text x="133.5" y="262.8" font-family="Liberation Sans, sans-serif" font-size="7.2" fill="#2a2a2a">IL-21 (120hr)</text>
<line x1="29" y1="344.3" x2="75.7" y2="344.3" stroke="#888" stroke-width="0.9"/>
<line x1="82.7" y1="344.3" x2="135.4" y2="344.3" stroke="#888" stroke-width="0.9"/>
<text x="34" y="353.8" font-family="Liberation Sans, sans-serif" font-weight="bold" font-size="7.4" textLength="41.7" lengthAdjust="spacingAndGlyphs" fill="#222">sensitive (S)</text>
<text x="86.9" y="353.8" font-family="Liberation Sans, sans-serif" font-weight="bold" font-size="7.4" textLength="43.3" lengthAdjust="spacingAndGlyphs" fill="#222">resistant (R)</text>
<text x="181.6" y="220.4" font-family="Liberation Sans, sans-serif" font-weight="bold" font-size="11" fill="#111">C</text>
<line x1="205.0" y1="232.1" x2="205.0" y2="319.4" stroke="#8a8a8a" stroke-width="0.9"/>
<line x1="203.2" y1="319.40" x2="205.0" y2="319.40" stroke="#8a8a8a" stroke-width="0.8"/>
<text x="202.2" y="321.60" text-anchor="end" font-family="Liberation Sans, sans-serif" font-weight="bold" font-size="6.3" fill="#1e1e1e">0</text>
<line x1="203.2" y1="302.14" x2="205.0" y2="302.14" stroke="#8a8a8a" stroke-width="0.8"/>
<text x="202.2" y="304.34" text-anchor="end" font-family="Liberation Sans, sans-serif" font-weight="bold" font-size="6.3" fill="#1e1e1e">20</text>
<line x1="203.2" y1="284.88" x2="205.0" y2="284.88" stroke="#8a8a8a" stroke-width="0.8"/>
<text x="202.2" y="287.08" text-anchor="end" font-family="Liberation Sans, sans-serif" font-weight="bold" font-size="6.3" fill="#1e1e1e">40</text>
<line x1="203.2" y1="267.62" x2="205.0" y2="267.62" stroke="#8a8a8a" stroke-width="0.8"/>
<text x="202.2" y="269.82" text-anchor="end" font-family="Liberation Sans, sans-serif" font-weight="bold" font-size="6.3" fill="#1e1e1e">60</text>
<line x1="203.2" y1="250.36" x2="205.0" y2="250.36" stroke="#8a8a8a" stroke-width="0.8"/>
<text x="202.2" y="252.56" text-anchor="end" font-family="Liberation Sans, sans-serif" font-weight="bold" font-size="6.3" fill="#1e1e1e">80</text>
<line x1="203.2" y1="233.10" x2="205.0" y2="233.10" stroke="#8a8a8a" stroke-width="0.8"/>
<text x="202.2" y="235.30" text-anchor="end" font-family="Liberation Sans, sans-serif" font-weight="bold" font-size="6.3" fill="#1e1e1e">100</text>
<line x1="205" y1="319.4" x2="335.3" y2="319.4" stroke="#8a8a8a" stroke-width="0.9"/>
<text transform="translate(188.5,276.2) rotate(-90)" text-anchor="middle" font-family="Liberation Sans, sans-serif" font-weight="bold" font-size="6.4" textLength="74.7" lengthAdjust="spacingAndGlyphs" fill="#1a1a1a">Percentage of dead cells</text>
<rect x="208.80" y="289.59" width="4.10" height="29.80" fill="#e00000" stroke="#8a0000" stroke-width="0.8"/>
<rect x="216.10" y="254.21" width="4.10" height="65.19" fill="#0000ea" stroke="#000095" stroke-width="0.8"/>
<line x1="214.45" y1="319.4" x2="214.45" y2="321.2" stroke="#8a8a8a" stroke-width="0.7"/>
<text transform="translate(215.35,329.70) rotate(-43)" text-anchor="end" font-family="Liberation Sans, sans-serif" font-weight="bold" font-size="6.55" fill="#1a1a1a">MCL specimen-1</text>
<rect x="227.30" y="291.32" width="4.10" height="28.08" fill="#e00000" stroke="#8a0000" stroke-width="0.8"/>
<rect x="234.60" y="268.88" width="4.10" height="50.52" fill="#0000ea" stroke="#000095" stroke-width="0.8"/>
<line x1="232.95" y1="319.4" x2="232.95" y2="321.2" stroke="#8a8a8a" stroke-width="0.7"/>
<text transform="translate(233.85,329.70) rotate(-43)" text-anchor="end" font-family="Liberation Sans, sans-serif" font-weight="bold" font-size="6.55" fill="#1a1a1a">MCL specimen-2</text>
<rect x="245.80" y="288.30" width="4.10" height="31.10" fill="#e00000" stroke="#8a0000" stroke-width="0.8"/>
<rect x="253.10" y="254.21" width="4.10" height="65.19" fill="#0000ea" stroke="#000095" stroke-width="0.8"/>
<line x1="251.45" y1="319.4" x2="251.45" y2="321.2" stroke="#8a8a8a" stroke-width="0.7"/>
<text transform="translate(252.35,329.70) rotate(-43)" text-anchor="end" font-family="Liberation Sans, sans-serif" font-weight="bold" font-size="6.55" fill="#1a1a1a">MCL specimen-3</text>
<rect x="264.30" y="294.77" width="4.10" height="24.63" fill="#e00000" stroke="#8a0000" stroke-width="0.8"/>
<rect x="271.60" y="288.73" width="4.10" height="30.67" fill="#0000ea" stroke="#000095" stroke-width="0.8"/>
<line x1="269.95" y1="319.4" x2="269.95" y2="321.2" stroke="#8a8a8a" stroke-width="0.7"/>
<text transform="translate(270.85,329.70) rotate(-43)" text-anchor="end" font-family="Liberation Sans, sans-serif" font-weight="bold" font-size="6.55" fill="#1a1a1a">MCL specimen-4</text>
<rect x="282.80" y="293.91" width="4.10" height="25.49" fill="#e00000" stroke="#8a0000" stroke-width="0.8"/>
<rect x="290.10" y="298.22" width="4.10" height="21.17" fill="#0000ea" stroke="#000095" stroke-width="0.8"/>
<line x1="288.45" y1="319.4" x2="288.45" y2="321.2" stroke="#8a8a8a" stroke-width="0.7"/>
<text transform="translate(289.35,329.70) rotate(-43)" text-anchor="end" font-family="Liberation Sans, sans-serif" font-weight="bold" font-size="6.55" fill="#1a1a1a">MCL specimen-5</text>
<rect x="301.30" y="288.73" width="4.10" height="30.67" fill="#e00000" stroke="#8a0000" stroke-width="0.8"/>
<rect x="308.60" y="296.50" width="4.10" height="22.90" fill="#0000ea" stroke="#000095" stroke-width="0.8"/>
<line x1="306.95" y1="319.4" x2="306.95" y2="321.2" stroke="#8a8a8a" stroke-width="0.7"/>
<text transform="translate(307.85,329.70) rotate(-43)" text-anchor="end" font-family="Liberation Sans, sans-serif" font-weight="bold" font-size="6.55" fill="#1a1a1a">MCL specimen-6</text>
<rect x="319.80" y="297.36" width="4.10" height="22.04" fill="#e00000" stroke="#8a0000" stroke-width="0.8"/>
<rect x="327.10" y="295.64" width="4.10" height="23.76" fill="#0000ea" stroke="#000095" stroke-width="0.8"/>
<line x1="325.45" y1="319.4" x2="325.45" y2="321.2" stroke="#8a8a8a" stroke-width="0.7"/>
<text transform="translate(326.35,329.70) rotate(-43)" text-anchor="end" font-family="Liberation Sans, sans-serif" font-weight="bold" font-size="6.55" fill="#1a1a1a">MCL specimen-7</text>
<rect x="304.1" y="236.2" width="10" height="4.5" fill="#e00000" stroke="#8a0000" stroke-width="0.9"/>
<text x="319" y="241.0" font-family="Liberation Sans, sans-serif" font-size="7.2" fill="#2a2a2a">Control</text>
<rect x="304.1" y="246.29999999999998" width="10" height="4.5" fill="#0000ea" stroke="#000095" stroke-width="0.9"/>
<text x="319" y="251.1" font-family="Liberation Sans, sans-serif" font-size="7.2" fill="#2a2a2a">IL-21</text>
<line x1="176.8" y1="367.3" x2="219.9" y2="367.3" stroke="#888" stroke-width="0.9"/>
<line x1="233.4" y1="367.3" x2="291.9" y2="367.3" stroke="#888" stroke-width="0.9"/>
<text x="178.3" y="375.6" font-family="Liberation Sans, sans-serif" font-weight="bold" font-size="7.4" textLength="41.6" lengthAdjust="spacingAndGlyphs" fill="#222">sensitive (S)</text>
<text x="241" y="375.6" font-family="Liberation Sans, sans-serif" font-weight="bold" font-size="7.4" textLength="42.2" lengthAdjust="spacingAndGlyphs" fill="#222">resistant (R)</text>
<text x="359.8" y="220.6" font-family="Liberation Sans, sans-serif" font-weight="bold" font-size="11.2" fill="#111">D</text>
<line x1="380.7" y1="233.3" x2="380.7" y2="320.4" stroke="#8a8a8a" stroke-width="0.9"/>
<line x1="378.9" y1="320.40" x2="380.7" y2="320.40" stroke="#8a8a8a" stroke-width="0.8"/>
<text x="377.8" y="322.60" text-anchor="end" font-family="Liberation Sans, sans-serif" font-weight="bold" font-size="6.3" fill="#1e1e1e">0</text>
<line x1="378.9" y1="303.18" x2="380.7" y2="303.18" stroke="#8a8a8a" stroke-width="0.8"/>
<text x="377.8" y="305.38" text-anchor="end" font-family="Liberation Sans, sans-serif" font-weight="bold" font-size="6.3" fill="#1e1e1e">20</text>
<line x1="378.9" y1="285.96" x2="380.7" y2="285.96" stroke="#8a8a8a" stroke-width="0.8"/>
<text x="377.8" y="288.16" text-anchor="end" font-family="Liberation Sans, sans-serif" font-weight="bold" font-size="6.3" fill="#1e1e1e">40</text>
<line x1="378.9" y1="268.74" x2="380.7" y2="268.74" stroke="#8a8a8a" stroke-width="0.8"/>
<text x="377.8" y="270.94" text-anchor="end" font-family="Liberation Sans, sans-serif" font-weight="bold" font-size="6.3" fill="#1e1e1e">60</text>
<line x1="378.9" y1="251.52" x2="380.7" y2="251.52" stroke="#8a8a8a" stroke-width="0.8"/>
<text x="377.8" y="253.72" text-anchor="end" font-family="Liberation Sans, sans-serif" font-weight="bold" font-size="6.3" fill="#1e1e1e">80</text>
<line x1="378.9" y1="234.30" x2="380.7" y2="234.30" stroke="#8a8a8a" stroke-width="0.8"/>
<text x="377.8" y="236.50" text-anchor="end" font-family="Liberation Sans, sans-serif" font-weight="bold" font-size="6.3" fill="#1e1e1e">100</text>
<line x1="380.8" y1="320.4" x2="510.2" y2="320.4" stroke="#8a8a8a" stroke-width="0.9"/>
<text transform="translate(364.8,276.7) rotate(-90)" text-anchor="middle" font-family="Liberation Sans, sans-serif" font-weight="bold" font-size="6.4" textLength="75.7" lengthAdjust="spacingAndGlyphs" fill="#1a1a1a">Percentage of dead cells</text>
<rect x="387.50" y="290.66" width="7.70" height="29.73" fill="#e00000" stroke="#8a0000" stroke-width="0.8"/>
<rect x="399.50" y="307.88" width="7.70" height="12.52" fill="#0000ea" stroke="#000095" stroke-width="0.8"/>
<line x1="397.35" y1="320.4" x2="397.35" y2="322.2" stroke="#8a8a8a" stroke-width="0.7"/>
<text transform="translate(398.15,329.60) rotate(-43)" text-anchor="end" font-family="Liberation Sans, sans-serif" font-weight="bold" font-size="6.4" fill="#1a1a1a">Normal PBL 1</text>
<rect x="419.90" y="286.36" width="7.70" height="34.04" fill="#e00000" stroke="#8a0000" stroke-width="0.8"/>
<rect x="431.90" y="303.58" width="7.70" height="16.82" fill="#0000ea" stroke="#000095" stroke-width="0.8"/>
<line x1="429.75" y1="320.4" x2="429.75" y2="322.2" stroke="#8a8a8a" stroke-width="0.7"/>
<text transform="translate(430.55,329.60) rotate(-43)" text-anchor="end" font-family="Liberation Sans, sans-serif" font-weight="bold" font-size="6.4" fill="#1a1a1a">Normal PBL 2</text>
<rect x="452.30" y="294.97" width="7.70" height="25.43" fill="#e00000" stroke="#8a0000" stroke-width="0.8"/>
<rect x="464.30" y="290.66" width="7.70" height="29.73" fill="#0000ea" stroke="#000095" stroke-width="0.8"/>
<line x1="462.15" y1="320.4" x2="462.15" y2="322.2" stroke="#8a8a8a" stroke-width="0.7"/>
<text transform="translate(462.95,329.60) rotate(-43)" text-anchor="end" font-family="Liberation Sans, sans-serif" font-weight="bold" font-size="6.4" fill="#1a1a1a">Normal PBL 3</text>
<rect x="484.70" y="286.36" width="7.70" height="34.04" fill="#e00000" stroke="#8a0000" stroke-width="0.8"/>
<rect x="496.70" y="288.08" width="7.70" height="32.32" fill="#0000ea" stroke="#000095" stroke-width="0.8"/>
<line x1="494.55" y1="320.4" x2="494.55" y2="322.2" stroke="#8a8a8a" stroke-width="0.7"/>
<text transform="translate(495.35,329.60) rotate(-43)" text-anchor="end" font-family="Liberation Sans, sans-serif" font-weight="bold" font-size="6.4" fill="#1a1a1a">Normal Tonsil</text>
<rect x="482.4" y="237.9" width="10" height="4.2" fill="#e00000" stroke="#8a0000" stroke-width="0.9"/>
<text x="497" y="242.5" font-family="Liberation Sans, sans-serif" font-size="7.2" fill="#2a2a2a">Control</text>
<rect x="482.4" y="248.1" width="10" height="4.2" fill="#0000ea" stroke="#000095" stroke-width="0.9"/>
<text x="497" y="252.7" font-family="Liberation Sans, sans-serif" font-size="7.2" fill="#2a2a2a">IL-21</text>
</svg></body></html>
